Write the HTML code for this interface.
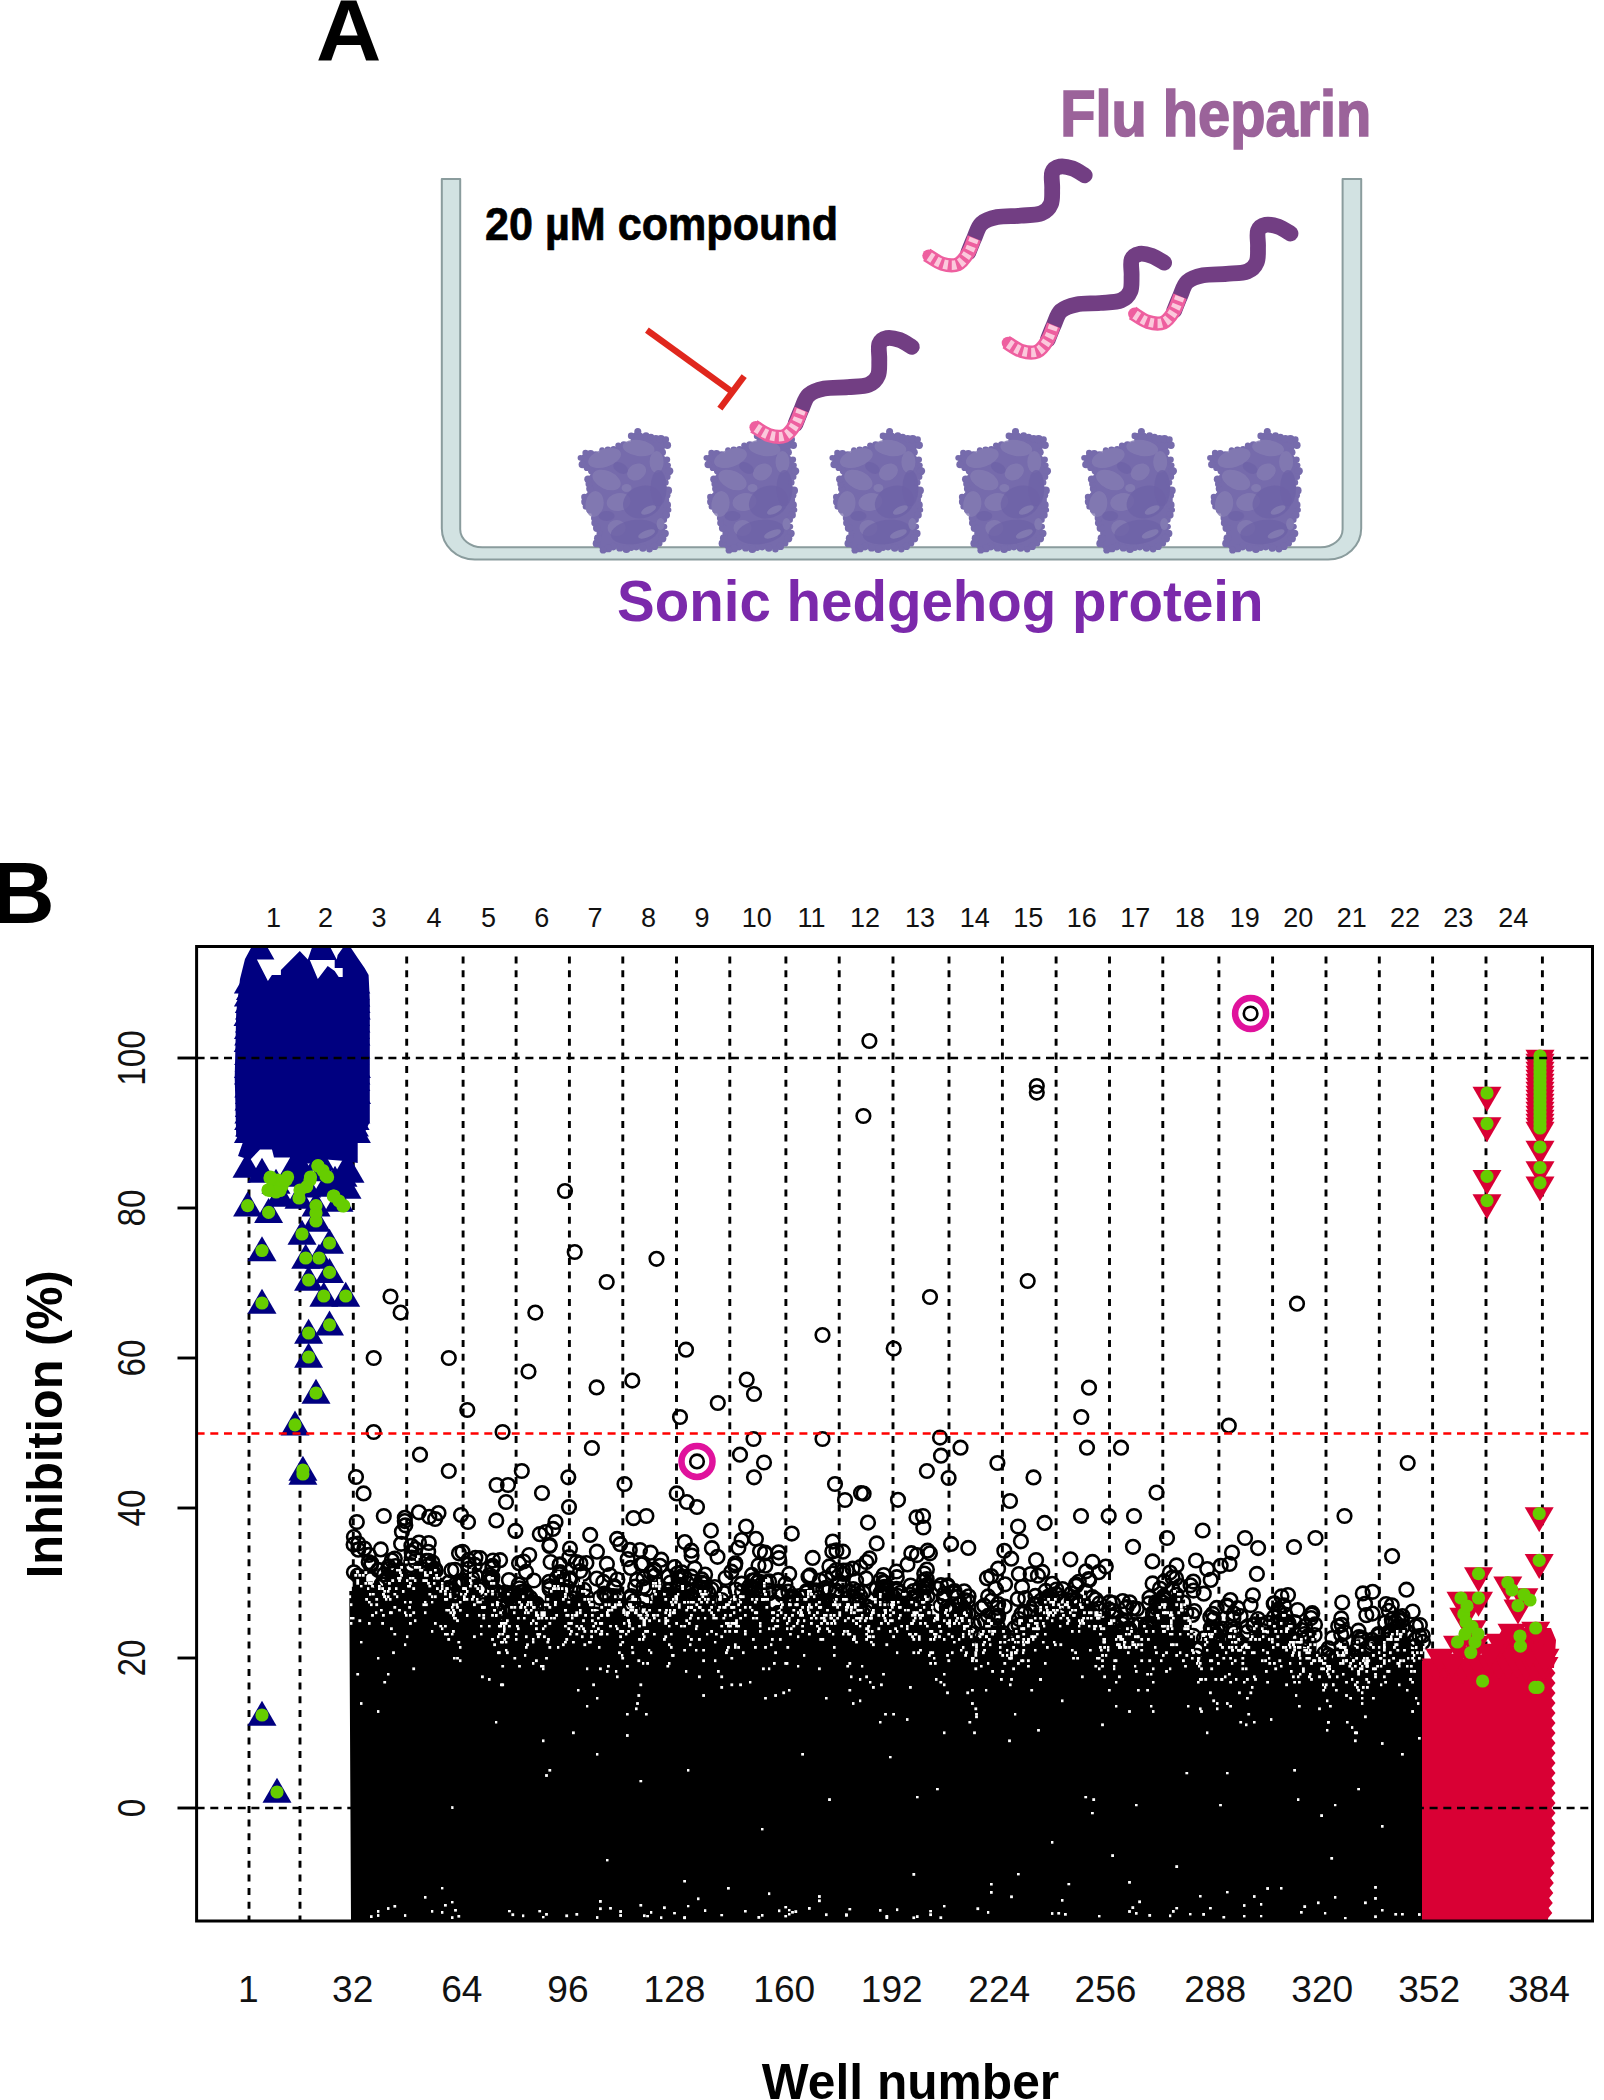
<!DOCTYPE html>
<html lang="en"><head><meta charset="utf-8"><title>Figure</title>
<style>
html,body{margin:0;padding:0;background:#fff;}
body{width:1604px;height:2100px;overflow:hidden;}
svg{display:block;}
text{font-family:"Liberation Sans",sans-serif;}
.b{font-weight:700;}
</style></head><body>
<svg width="1604" height="2100" viewBox="0 0 1604 2100">
<rect width="1604" height="2100" fill="#fff"/>

<g id="panelA">
<text class="b" font-size="87.5" text-anchor="middle" transform="translate(348.6 60.4) scale(1.035 1)">A</text>
<path d="M441.8,179 L441.8,528.5 A33,31 0 0 0 474.8,559.5 L1328.2,559.5 A33,31 0 0 0 1361.2,528.5 L1361.2,179 L1342.6,179 L1342.6,529.2 A22,18 0 0 1 1320.6,547.2 L482.2,547.2 A22,18 0 0 1 460.2,529.2 L460.2,179 Z" fill="#d2e2e2" stroke="#8a9c9d" stroke-width="2" stroke-linejoin="round"/>
<text class="b" x="485" y="239.6" font-size="45.5" stroke="#000" stroke-width="0.7" textLength="353" lengthAdjust="spacingAndGlyphs">20 µM compound</text>
<text class="b" x="1060.3" y="136" font-size="64.5" fill="#9b639a" stroke="#9b639a" stroke-width="1.7" textLength="311" lengthAdjust="spacingAndGlyphs">Flu heparin</text>
<text class="b" x="617" y="621.3" font-size="57.8" fill="#7b29ab" textLength="646.5" lengthAdjust="spacingAndGlyphs">Sonic hedgehog protein</text>
<defs><g id="blob">
<path d="M3.9,29.8C4.4,27.8 6.3,25.4 8.9,24.9C11.4,24.4 16.3,27.4 19.1,26.9C21.9,26.5 22.6,23 25.5,22.1C28.5,21.2 34.3,22.4 37,21.6C39.7,20.9 39.1,18.3 41.7,17.4C44.4,16.6 50.8,18.2 53,16.6C55.1,15 53.3,10.1 54.6,7.9C56,5.7 58.8,3.5 61.2,3.5C63.7,3.4 66.4,6.4 69.4,7.7C72.4,8.9 76,10.2 79.3,10.9C82.6,11.5 87.4,10.4 89.3,11.4C91.3,12.5 91.5,15.2 90.8,17.3C90.2,19.5 85.6,21.9 85.6,24.3C85.5,26.6 89.2,28.5 90.4,31.6C91.6,34.8 92.9,39.3 92.6,43.1C92.4,46.9 89.1,51.2 88.9,54.4C88.7,57.7 91.5,59.5 91.5,62.5C91.6,65.4 89,68.8 89.1,72.1C89.2,75.3 92.3,78.7 92,82C91.6,85.3 87.8,87.9 87.2,91.8C86.6,95.7 89.2,101.4 88.5,105.4C87.7,109.3 85.4,112.8 82.8,115.5C80.3,118.2 76.8,120.8 72.9,121.3C69.1,121.9 63.5,118.6 59.6,118.6C55.8,118.5 53.6,121.1 49.8,121.1C45.9,121.1 40.4,118.4 36.6,118.6C32.7,118.8 29.3,122.8 26.5,122.2C23.8,121.7 20.6,118.3 20,115.4C19.4,112.6 23.1,108.5 22.8,105.1C22.4,101.6 18.9,98.3 18.1,95C17.2,91.6 19.1,87.7 17.6,84.9C16.2,82.2 11,81.3 9.3,78.6C7.7,76 7.2,71.9 7.8,68.9C8.5,65.9 12.6,63.8 13.2,60.8C13.8,57.9 11.1,54.2 11.4,51.2C11.6,48.3 15.6,45.7 14.6,43.3C13.7,40.8 7.6,38.7 5.8,36.5C4,34.2 3.4,31.7 3.9,29.8Z" fill="#766bac"/>
<g fill="#766bac"><circle cx="3.9" cy="29.8" r="2.9"/><circle cx="8.9" cy="24.9" r="3.1"/><circle cx="14" cy="25.9" r="3.9"/><circle cx="19.1" cy="26.9" r="3.6"/><circle cx="25.5" cy="22.1" r="2.9"/><circle cx="31.3" cy="21.9" r="3.4"/><circle cx="37" cy="21.6" r="3.5"/><circle cx="41.7" cy="17.4" r="3"/><circle cx="47.3" cy="17" r="3.8"/><circle cx="53" cy="16.6" r="3"/><circle cx="54.6" cy="7.9" r="3.3"/><circle cx="61.2" cy="3.5" r="3.5"/><circle cx="69.4" cy="7.7" r="3.4"/><circle cx="74.3" cy="9.3" r="3.6"/><circle cx="79.3" cy="10.9" r="3.8"/><circle cx="84.3" cy="11.1" r="4.1"/><circle cx="89.3" cy="11.4" r="3.2"/><circle cx="90.8" cy="17.3" r="3.7"/><circle cx="85.6" cy="24.3" r="3.8"/><circle cx="90.4" cy="31.6" r="3.2"/><circle cx="91.5" cy="37.3" r="2.8"/><circle cx="92.6" cy="43.1" r="4.2"/><circle cx="90.8" cy="48.8" r="3.2"/><circle cx="88.9" cy="54.4" r="3.2"/><circle cx="91.5" cy="62.5" r="4"/><circle cx="90.3" cy="67.3" r="3.6"/><circle cx="89.1" cy="72.1" r="3.5"/><circle cx="90.5" cy="77" r="3.9"/><circle cx="92" cy="82" r="2.8"/><circle cx="89.6" cy="86.9" r="3.8"/><circle cx="87.2" cy="91.8" r="3.3"/><circle cx="87.8" cy="98.6" r="2.9"/><circle cx="88.5" cy="105.4" r="3.7"/><circle cx="85.7" cy="110.4" r="4.1"/><circle cx="82.8" cy="115.5" r="3.1"/><circle cx="77.9" cy="118.4" r="3.7"/><circle cx="72.9" cy="121.3" r="3.2"/><circle cx="66.3" cy="120" r="3.8"/><circle cx="59.6" cy="118.6" r="3.8"/><circle cx="54.7" cy="119.8" r="3.1"/><circle cx="49.8" cy="121.1" r="4"/><circle cx="43.2" cy="119.9" r="3.7"/><circle cx="36.6" cy="118.6" r="3.8"/><circle cx="31.6" cy="120.4" r="3.9"/><circle cx="26.5" cy="122.2" r="3.4"/><circle cx="20" cy="115.4" r="3.9"/><circle cx="21.4" cy="110.2" r="4"/><circle cx="22.8" cy="105.1" r="2.9"/><circle cx="20.4" cy="100" r="4"/><circle cx="18.1" cy="95" r="3.4"/><circle cx="17.9" cy="90" r="3.5"/><circle cx="17.6" cy="84.9" r="3"/><circle cx="13.5" cy="81.8" r="3.8"/><circle cx="9.3" cy="78.6" r="3.2"/><circle cx="8.6" cy="73.8" r="4"/><circle cx="7.8" cy="68.9" r="3.2"/><circle cx="13.2" cy="60.8" r="3.6"/><circle cx="12.3" cy="56" r="3.4"/><circle cx="11.4" cy="51.2" r="3.7"/><circle cx="14.6" cy="43.3" r="3.1"/><circle cx="10.2" cy="39.9" r="3.1"/><circle cx="5.8" cy="36.5" r="3.8"/></g>
<ellipse cx="28" cy="30" rx="17" ry="9" fill="#857cb3" opacity="0.8" transform="rotate(-18 28 30)"/>
<ellipse cx="62" cy="20" rx="16" ry="8" fill="#857cb3" opacity="0.8" transform="rotate(8 62 20)"/>
<ellipse cx="30" cy="52" rx="15" ry="9" fill="#857cb3" opacity="0.8" transform="rotate(25 30 52)"/>
<ellipse cx="60" cy="44" rx="10" ry="8" fill="#857cb3" opacity="0.8" transform="rotate(-30 60 44)"/>
<ellipse cx="18" cy="76" rx="9" ry="13" fill="#857cb3" opacity="0.8" transform="rotate(8 18 76)"/>
<ellipse cx="42" cy="74" rx="12" ry="9" fill="#857cb3" opacity="0.8" transform="rotate(-10 42 74)"/>
<ellipse cx="80" cy="34" rx="7" ry="11" fill="#857cb3" opacity="0.8" transform="rotate(0 80 34)"/>
<ellipse cx="40" cy="100" rx="9" ry="8" fill="#857cb3" opacity="0.8" transform="rotate(0 40 100)"/>
<ellipse cx="66" cy="74" rx="20" ry="16" fill="#6d62a7" opacity="0.75" transform="rotate(-20 66 74)"/>
<ellipse cx="58" cy="104" rx="24" ry="12" fill="#6d62a7" opacity="0.75" transform="rotate(-8 58 104)"/>
<ellipse cx="82" cy="60" rx="8" ry="18" fill="#6d62a7" opacity="0.75" transform="rotate(0 82 60)"/>
<ellipse cx="44" cy="40" rx="8" ry="5" fill="#6d62a7" opacity="0.75" transform="rotate(30 44 40)"/>
<ellipse cx="30" cy="88" rx="8" ry="5" fill="#6d62a7" opacity="0.75" transform="rotate(0 30 88)"/>
<ellipse cx="72" cy="82" rx="8" ry="3.5" fill="#857cb3" opacity="0.85" transform="rotate(-25 72 82)"/>
<ellipse cx="70" cy="106" rx="9" ry="3.5" fill="#857cb3" opacity="0.85" transform="rotate(-22 70 106)"/>
<ellipse cx="84" cy="96" rx="4" ry="6" fill="#857cb3" opacity="0.85" transform="rotate(0 84 96)"/>
<ellipse cx="50" cy="60" rx="5" ry="4" fill="#857cb3" opacity="0.85" transform="rotate(0 50 60)"/>
</g>
<g id="worm" fill="none" stroke-linecap="round" stroke-linejoin="round">
<path d="M44.6,-3.9C45.6,-6.3 48.3,-13.5 50.5,-18.3C52.7,-23.1 53.9,-29.2 57.7,-32.7C61.5,-36.2 66.9,-37.9 73.4,-39.2C79.9,-40.5 89.5,-39.9 96.9,-40.6C104.3,-41.3 112.9,-41.2 117.9,-43.2C122.9,-45.1 125.4,-48.2 127.1,-52.3C128.9,-56.4 128.2,-62.8 128.4,-68C128.6,-73.2 127.1,-80.2 128.4,-83.8C129.7,-87.4 132.8,-89 136.2,-89.7C139.6,-90.3 144.8,-89.1 148.9,-87.7C153,-86.2 158.9,-82.1 160.9,-81" stroke="#723e83" stroke-width="15.8"/>
<path d="M2.9,-1.5C5.5,-0 13.2,5.8 18.4,7.4C23.6,9 29.7,9.8 34.1,7.9C38.5,6 41.9,0.5 44.6,-3.9C47.3,-8.3 49.5,-15.9 50.5,-18.3" stroke="#ee5f9f" stroke-width="14.2" stroke-linecap="butt"/>
<circle cx="4.9" cy="-0.5" r="6.4" fill="#ee5f9f" stroke="none"/>
<path d="M2.9,-1.5C5.5,-0 13.2,5.8 18.4,7.4C23.6,9 29.7,9.8 34.1,7.9C38.5,6 41.9,0.5 44.6,-3.9C47.3,-8.3 49.5,-15.9 50.5,-18.3" stroke="#fbc9dc" stroke-width="9.4" stroke-dasharray="4.4 3.8" stroke-dashoffset="-3" stroke-linecap="butt"/>
</g></defs>
<g stroke="#e0271d" stroke-width="6.4" fill="none"><path d="M646.9,330.1 L731,391"/><path d="M744.2,376.1 L719.9,408.7"/></g>
<use href="#blob" x="576.6" y="428"/>
<use href="#blob" x="702.5" y="428"/>
<use href="#blob" x="828.4" y="428"/>
<use href="#blob" x="954.3" y="428"/>
<use href="#blob" x="1080.2" y="428"/>
<use href="#blob" x="1206.1" y="428"/>
<use href="#worm" x="750.9" y="427.8"/>
<use href="#worm" x="923.8" y="256.3"/>
<use href="#worm" x="1003.2" y="343.6"/>
<use href="#worm" x="1129.6" y="314.5"/>
</g>
<g id="panelB">
<text class="b" x="-8.5" y="923" font-size="87.5">B</text>
<defs><clipPath id="pc"><rect x="196.6" y="946.5" width="1395.9" height="974.5"/></clipPath>
<marker id="mc" markerWidth="20" markerHeight="20" refX="10" refY="10" markerUnits="userSpaceOnUse" overflow="visible"><circle cx="10" cy="10" r="6.8" fill="none" stroke="#000" stroke-width="2.6"/></marker>
<marker id="mw" markerWidth="6" markerHeight="6" refX="1.4" refY="1.4" markerUnits="userSpaceOnUse"><rect width="2.8" height="2.8" fill="#fff"/></marker>
<marker id="mb" markerWidth="40" markerHeight="40" refX="20" refY="20" markerUnits="userSpaceOnUse" overflow="visible"><path d="M20,3.5 L34.5,28.5 L5.5,28.5 Z" fill="#000080"/></marker>
<marker id="mr" markerWidth="40" markerHeight="40" refX="20" refY="20" markerUnits="userSpaceOnUse" overflow="visible"><path d="M20,36.5 L34.5,11.5 L5.5,11.5 Z" fill="#d90034"/></marker>
<marker id="mg" markerWidth="20" markerHeight="20" refX="10" refY="10" markerUnits="userSpaceOnUse" overflow="visible"><circle cx="10" cy="10" r="6.6" fill="#66cd00"/></marker>
</defs>
<text x="273.5" y="927" font-size="27" text-anchor="middle" fill="#111">1</text>
<text x="325.6" y="927" font-size="27" text-anchor="middle" fill="#111">2</text>
<text x="379" y="927" font-size="27" text-anchor="middle" fill="#111">3</text>
<text x="433.9" y="927" font-size="27" text-anchor="middle" fill="#111">4</text>
<text x="488.6" y="927" font-size="27" text-anchor="middle" fill="#111">5</text>
<text x="541.8" y="927" font-size="27" text-anchor="middle" fill="#111">6</text>
<text x="595.1" y="927" font-size="27" text-anchor="middle" fill="#111">7</text>
<text x="648.6" y="927" font-size="27" text-anchor="middle" fill="#111">8</text>
<text x="702.1" y="927" font-size="27" text-anchor="middle" fill="#111">9</text>
<text x="756.8" y="927" font-size="27" text-anchor="middle" fill="#111">10</text>
<text x="811.5" y="927" font-size="27" text-anchor="middle" fill="#111">11</text>
<text x="865.1" y="927" font-size="27" text-anchor="middle" fill="#111">12</text>
<text x="920" y="927" font-size="27" text-anchor="middle" fill="#111">13</text>
<text x="974.7" y="927" font-size="27" text-anchor="middle" fill="#111">14</text>
<text x="1028.2" y="927" font-size="27" text-anchor="middle" fill="#111">15</text>
<text x="1081.8" y="927" font-size="27" text-anchor="middle" fill="#111">16</text>
<text x="1135.2" y="927" font-size="27" text-anchor="middle" fill="#111">17</text>
<text x="1189.8" y="927" font-size="27" text-anchor="middle" fill="#111">18</text>
<text x="1244.8" y="927" font-size="27" text-anchor="middle" fill="#111">19</text>
<text x="1298.3" y="927" font-size="27" text-anchor="middle" fill="#111">20</text>
<text x="1351.7" y="927" font-size="27" text-anchor="middle" fill="#111">21</text>
<text x="1404.9" y="927" font-size="27" text-anchor="middle" fill="#111">22</text>
<text x="1458.3" y="927" font-size="27" text-anchor="middle" fill="#111">23</text>
<text x="1513.2" y="927" font-size="27" text-anchor="middle" fill="#111">24</text>
<text font-size="36.4" text-anchor="middle" fill="#111" transform="translate(248.4 2002) scale(1.02 1)">1</text>
<text font-size="36.4" text-anchor="middle" fill="#111" transform="translate(352.7 2002) scale(1.02 1)">32</text>
<text font-size="36.4" text-anchor="middle" fill="#111" transform="translate(461.8 2002) scale(1.02 1)">64</text>
<text font-size="36.4" text-anchor="middle" fill="#111" transform="translate(568 2002) scale(1.02 1)">96</text>
<text font-size="36.4" text-anchor="middle" fill="#111" transform="translate(674.5 2002) scale(1.02 1)">128</text>
<text font-size="36.4" text-anchor="middle" fill="#111" transform="translate(784.3 2002) scale(1.02 1)">160</text>
<text font-size="36.4" text-anchor="middle" fill="#111" transform="translate(891.7 2002) scale(1.02 1)">192</text>
<text font-size="36.4" text-anchor="middle" fill="#111" transform="translate(999.3 2002) scale(1.02 1)">224</text>
<text font-size="36.4" text-anchor="middle" fill="#111" transform="translate(1105.5 2002) scale(1.02 1)">256</text>
<text font-size="36.4" text-anchor="middle" fill="#111" transform="translate(1215.3 2002) scale(1.02 1)">288</text>
<text font-size="36.4" text-anchor="middle" fill="#111" transform="translate(1322.2 2002) scale(1.02 1)">320</text>
<text font-size="36.4" text-anchor="middle" fill="#111" transform="translate(1429.1 2002) scale(1.02 1)">352</text>
<text font-size="36.4" text-anchor="middle" fill="#111" transform="translate(1538.9 2002) scale(1.02 1)">384</text>
<text font-size="33.3" text-anchor="middle" fill="#111" transform="translate(145 1808) rotate(-90) scale(1 1.17)">0</text>
<line x1="177.5" x2="196.6" y1="1808" y2="1808" stroke="#000" stroke-width="2.9"/>
<text font-size="33.3" text-anchor="middle" fill="#111" transform="translate(145 1658) rotate(-90) scale(1 1.17)">20</text>
<line x1="177.5" x2="196.6" y1="1658" y2="1658" stroke="#000" stroke-width="2.9"/>
<text font-size="33.3" text-anchor="middle" fill="#111" transform="translate(145 1508) rotate(-90) scale(1 1.17)">40</text>
<line x1="177.5" x2="196.6" y1="1508" y2="1508" stroke="#000" stroke-width="2.9"/>
<text font-size="33.3" text-anchor="middle" fill="#111" transform="translate(145 1358) rotate(-90) scale(1 1.17)">60</text>
<line x1="177.5" x2="196.6" y1="1358" y2="1358" stroke="#000" stroke-width="2.9"/>
<text font-size="33.3" text-anchor="middle" fill="#111" transform="translate(145 1208) rotate(-90) scale(1 1.17)">80</text>
<line x1="177.5" x2="196.6" y1="1208" y2="1208" stroke="#000" stroke-width="2.9"/>
<text font-size="33.3" text-anchor="middle" fill="#111" transform="translate(145 1058) rotate(-90) scale(1 1.17)">100</text>
<line x1="177.5" x2="196.6" y1="1058" y2="1058" stroke="#000" stroke-width="2.9"/>
<text class="b" font-size="50.5" text-anchor="middle" transform="translate(62 1424.3) rotate(-90)" textLength="308" lengthAdjust="spacingAndGlyphs">Inhibition (%)</text>
<text class="b" font-size="49.7" x="910.5" y="2099" text-anchor="middle">Well number</text>
<g clip-path="url(#pc)">
<line x1="249" x2="249" y1="956.5" y2="1921" stroke="#000" stroke-width="2.9" stroke-dasharray="7 6.7"/>
<line x1="300" x2="300" y1="956.5" y2="1921" stroke="#000" stroke-width="2.9" stroke-dasharray="7 6.7"/>
<line x1="353.3" x2="353.3" y1="956.5" y2="1921" stroke="#000" stroke-width="2.9" stroke-dasharray="7 6.7"/>
<line x1="406.7" x2="406.7" y1="956.5" y2="1921" stroke="#000" stroke-width="2.9" stroke-dasharray="7 6.7"/>
<line x1="463.1" x2="463.1" y1="956.5" y2="1921" stroke="#000" stroke-width="2.9" stroke-dasharray="7 6.7"/>
<line x1="516.1" x2="516.1" y1="956.5" y2="1921" stroke="#000" stroke-width="2.9" stroke-dasharray="7 6.7"/>
<line x1="569.4" x2="569.4" y1="956.5" y2="1921" stroke="#000" stroke-width="2.9" stroke-dasharray="7 6.7"/>
<line x1="622.8" x2="622.8" y1="956.5" y2="1921" stroke="#000" stroke-width="2.9" stroke-dasharray="7 6.7"/>
<line x1="676.5" x2="676.5" y1="956.5" y2="1921" stroke="#000" stroke-width="2.9" stroke-dasharray="7 6.7"/>
<line x1="729.8" x2="729.8" y1="956.5" y2="1921" stroke="#000" stroke-width="2.9" stroke-dasharray="7 6.7"/>
<line x1="785.9" x2="785.9" y1="956.5" y2="1921" stroke="#000" stroke-width="2.9" stroke-dasharray="7 6.7"/>
<line x1="839.2" x2="839.2" y1="956.5" y2="1921" stroke="#000" stroke-width="2.9" stroke-dasharray="7 6.7"/>
<line x1="893" x2="893" y1="956.5" y2="1921" stroke="#000" stroke-width="2.9" stroke-dasharray="7 6.7"/>
<line x1="949" x2="949" y1="956.5" y2="1921" stroke="#000" stroke-width="2.9" stroke-dasharray="7 6.7"/>
<line x1="1002.4" x2="1002.4" y1="956.5" y2="1921" stroke="#000" stroke-width="2.9" stroke-dasharray="7 6.7"/>
<line x1="1056.1" x2="1056.1" y1="956.5" y2="1921" stroke="#000" stroke-width="2.9" stroke-dasharray="7 6.7"/>
<line x1="1109.5" x2="1109.5" y1="956.5" y2="1921" stroke="#000" stroke-width="2.9" stroke-dasharray="7 6.7"/>
<line x1="1162.8" x2="1162.8" y1="956.5" y2="1921" stroke="#000" stroke-width="2.9" stroke-dasharray="7 6.7"/>
<line x1="1218.9" x2="1218.9" y1="956.5" y2="1921" stroke="#000" stroke-width="2.9" stroke-dasharray="7 6.7"/>
<line x1="1272.6" x2="1272.6" y1="956.5" y2="1921" stroke="#000" stroke-width="2.9" stroke-dasharray="7 6.7"/>
<line x1="1326" x2="1326" y1="956.5" y2="1921" stroke="#000" stroke-width="2.9" stroke-dasharray="7 6.7"/>
<line x1="1379.3" x2="1379.3" y1="956.5" y2="1921" stroke="#000" stroke-width="2.9" stroke-dasharray="7 6.7"/>
<line x1="1432.6" x2="1432.6" y1="956.5" y2="1921" stroke="#000" stroke-width="2.9" stroke-dasharray="7 6.7"/>
<line x1="1486" x2="1486" y1="956.5" y2="1921" stroke="#000" stroke-width="2.9" stroke-dasharray="7 6.7"/>
<line x1="1542.4" x2="1542.4" y1="956.5" y2="1921" stroke="#000" stroke-width="2.9" stroke-dasharray="7 6.7"/>
<polygon points="351,1921 349.3,1590.9 352.7,1590.9 352.7,1570.8 356.1,1570.8 356,1573.5 359.4,1573.5 359.4,1569.9 362.8,1569.9 362.8,1569.4 366.2,1569.4 366.2,1581.7 369.6,1581.7 369.5,1581.4 372.9,1581.4 372.9,1587.6 376.3,1587.6 376.3,1583.2 379.7,1583.2 379.6,1585.7 383,1585.7 383,1583.8 386.4,1583.8 386.4,1579.5 389.8,1579.5 389.7,1573.5 393.1,1573.5 393.1,1573.4 396.5,1573.4 396.5,1563.1 399.9,1563.1 399.9,1563.4 403.3,1563.4 403.2,1559.4 406.6,1559.4 406.6,1573.8 410,1573.8 410,1574.1 413.4,1574.1 413.3,1563.2 416.7,1563.2 416.7,1552.8 420.1,1552.8 420.1,1566.2 423.5,1566.2 423.4,1568.6 426.8,1568.6 426.8,1569.8 430.2,1569.8 430.2,1569.7 433.6,1569.7 433.6,1567.4 437,1567.4 436.9,1573.1 440.3,1573.1 440.3,1577.8 443.7,1577.8 443.7,1580.8 447.1,1580.8 447,1584.6 450.4,1584.6 450.4,1594.3 453.8,1594.3 453.8,1599.4 457.2,1599.4 457.1,1597.8 460.5,1597.8 460.5,1578.9 463.9,1578.9 463.9,1585.6 467.3,1585.6 467.3,1566.6 470.7,1566.6 470.6,1579.2 474,1579.2 474,1578.7 477.4,1578.7 477.4,1585.8 480.8,1585.8 480.7,1600.5 484.1,1600.5 484.1,1590.7 487.5,1590.7 487.5,1584.7 490.9,1584.7 490.8,1575.3 494.2,1575.3 494.2,1593.8 497.6,1593.8 497.6,1608.4 501,1608.4 501,1620 504.4,1620 504.3,1612.4 507.7,1612.4 507.7,1591.7 511.1,1591.7 511.1,1596.6 514.5,1596.6 514.4,1603.7 517.8,1603.7 517.8,1592.2 521.2,1592.2 521.2,1589.5 524.6,1589.5 524.5,1593.2 527.9,1593.2 527.9,1599.1 531.3,1599.1 531.3,1601.4 534.7,1601.4 534.7,1609.2 538.1,1609.2 538,1609.3 541.4,1609.3 541.4,1609.4 544.8,1609.4 544.8,1594.7 548.2,1594.7 548.1,1589.6 551.5,1589.6 551.5,1580.9 554.9,1580.9 554.9,1577.3 558.3,1577.3 558.2,1569.7 561.6,1569.7 561.6,1576.8 565,1576.8 565,1590 568.4,1590 568.4,1598.8 571.8,1598.8 571.7,1595.6 575.1,1595.6 575.1,1590.8 578.5,1590.8 578.5,1578.9 581.9,1578.9 581.8,1583.9 585.2,1583.9 585.2,1594.9 588.6,1594.9 588.6,1595.3 592,1595.3 591.9,1600.3 595.3,1600.3 595.3,1611.1 598.7,1611.1 598.7,1603.9 602.1,1603.9 602.1,1590.4 605.5,1590.4 605.4,1594.2 608.8,1594.2 608.8,1596.6 612.2,1596.6 612.2,1590.6 615.6,1590.6 615.5,1598.7 618.9,1598.7 618.9,1594.4 622.3,1594.4 622.3,1615.9 625.7,1615.9 625.6,1609.1 629,1609.1 629,1600.5 632.4,1600.5 632.4,1595.6 635.8,1595.6 635.8,1607 639.2,1607 639.1,1612.7 642.5,1612.7 642.5,1626.2 645.9,1626.2 645.9,1606.5 649.3,1606.5 649.2,1600.3 652.6,1600.3 652.6,1580.2 656,1580.2 656,1579.1 659.4,1579.1 659.3,1578.8 662.7,1578.8 662.7,1593.1 666.1,1593.1 666.1,1601 669.5,1601 669.5,1596.7 672.9,1596.7 672.8,1594.9 676.2,1594.9 676.2,1590.2 679.6,1590.2 679.6,1580.8 683,1580.8 682.9,1596.4 686.3,1596.4 686.3,1599.4 689.7,1599.4 689.7,1599.9 693.1,1599.9 693,1597.8 696.4,1597.8 696.4,1596 699.8,1596 699.8,1586.2 703.2,1586.2 703.2,1588.1 706.6,1588.1 706.5,1597.3 709.9,1597.3 709.9,1595.5 713.3,1595.5 713.3,1605.2 716.7,1605.2 716.6,1591.7 720,1591.7 720,1594.9 723.4,1594.9 723.4,1598.1 726.8,1598.1 726.7,1597.7 730.1,1597.7 730.1,1602.2 733.5,1602.2 733.5,1594 736.9,1594 736.9,1603 740.3,1603 740.2,1589.7 743.6,1589.7 743.6,1591.1 747,1591.1 747,1594.2 750.4,1594.2 750.3,1587.5 753.7,1587.5 753.7,1593.9 757.1,1593.9 757.1,1590.9 760.5,1590.9 760.4,1594.5 763.8,1594.5 763.8,1576.9 767.2,1576.9 767.2,1590.3 770.6,1590.3 770.6,1608.1 774,1608.1 773.9,1606.7 777.3,1606.7 777.3,1611.3 780.7,1611.3 780.7,1597.7 784.1,1597.7 784,1598.9 787.4,1598.9 787.4,1601.7 790.8,1601.7 790.8,1599.2 794.2,1599.2 794.1,1592.4 797.5,1592.4 797.5,1604.6 800.9,1604.6 800.9,1604.3 804.3,1604.3 804.3,1589 807.7,1589 807.6,1584.5 811,1584.5 811,1583 814.4,1583 814.4,1596.5 817.8,1596.5 817.7,1599.9 821.1,1599.9 821.1,1602.7 824.5,1602.7 824.5,1603.8 827.9,1603.8 827.8,1598.8 831.2,1598.8 831.2,1600.9 834.6,1600.9 834.6,1596.8 838,1596.8 838,1595.1 841.4,1595.1 841.3,1582.8 844.7,1582.8 844.7,1596.4 848.1,1596.4 848.1,1602.8 851.5,1602.8 851.4,1604.9 854.8,1604.9 854.8,1600.7 858.2,1600.7 858.2,1603.6 861.6,1603.6 861.5,1609 864.9,1609 864.9,1615.7 868.3,1615.7 868.3,1610.8 871.7,1610.8 871.7,1600.5 875.1,1600.5 875,1585.7 878.4,1585.7 878.4,1587.7 881.8,1587.7 881.8,1601.4 885.2,1601.4 885.1,1606.5 888.5,1606.5 888.5,1602.7 891.9,1602.7 891.9,1600.2 895.3,1600.2 895.2,1591.8 898.6,1591.8 898.6,1600.9 902,1600.9 902,1590.2 905.4,1590.2 905.4,1601 908.8,1601 908.7,1589.6 912.1,1589.6 912.1,1608.6 915.5,1608.6 915.5,1598 918.9,1598 918.8,1606.4 922.2,1606.4 922.2,1593 925.6,1593 925.6,1592.5 929,1592.5 928.9,1603.9 932.3,1603.9 932.3,1614.2 935.7,1614.2 935.7,1620.8 939.1,1620.8 939.1,1608.9 942.5,1608.9 942.4,1604.1 945.8,1604.1 945.8,1605.6 949.2,1605.6 949.2,1617.1 952.6,1617.1 952.5,1613.3 955.9,1613.3 955.9,1612.9 959.3,1612.9 959.3,1610.3 962.7,1610.3 962.6,1619.5 966,1619.5 966,1612 969.4,1612 969.4,1628.5 972.8,1628.5 972.8,1642.3 976.2,1642.3 976.1,1641.3 979.5,1641.3 979.5,1630.6 982.9,1630.6 982.9,1619.4 986.3,1619.4 986.2,1615.5 989.6,1615.5 989.6,1615.9 993,1615.9 993,1625.3 996.4,1625.3 996.3,1623.7 999.7,1623.7 999.7,1629.4 1003.1,1629.4 1003.1,1630.1 1006.5,1630.1 1006.5,1643.2 1009.9,1643.2 1009.8,1638 1013.2,1638 1013.2,1627.4 1016.6,1627.4 1016.6,1619.4 1020,1619.4 1019.9,1615.4 1023.3,1615.4 1023.3,1616.8 1026.7,1616.8 1026.7,1624.9 1030.1,1624.9 1030,1617.7 1033.4,1617.7 1033.4,1607.8 1036.8,1607.8 1036.8,1612.2 1040.2,1612.2 1040.2,1597 1043.6,1597 1043.5,1599 1046.9,1599 1046.9,1595.7 1050.3,1595.7 1050.3,1598.7 1053.7,1598.7 1053.6,1591.4 1057,1591.4 1057,1597.5 1060.4,1597.5 1060.4,1612.5 1063.8,1612.5 1063.7,1598.2 1067.1,1598.2 1067.1,1597.8 1070.5,1597.8 1070.5,1600.7 1073.9,1600.7 1073.9,1603.3 1077.3,1603.3 1077.2,1602.4 1080.6,1602.4 1080.6,1601.7 1084,1601.7 1084,1590.6 1087.4,1590.6 1087.3,1599 1090.7,1599 1090.7,1605 1094.1,1605 1094.1,1609.1 1097.5,1609.1 1097.4,1613.1 1100.8,1613.1 1100.8,1617.7 1104.2,1617.7 1104.2,1615.9 1107.6,1615.9 1107.6,1611.2 1111,1611.2 1110.9,1617.1 1114.3,1617.1 1114.3,1633.1 1117.7,1633.1 1117.7,1630.7 1121.1,1630.7 1121,1623.6 1124.4,1623.6 1124.4,1621.9 1127.8,1621.9 1127.8,1629.7 1131.2,1629.7 1131.1,1629.1 1134.5,1629.1 1134.5,1633.3 1137.9,1633.3 1137.9,1622.7 1141.3,1622.7 1141.3,1621.9 1144.7,1621.9 1144.6,1627.1 1148,1627.1 1148,1633.7 1151.4,1633.7 1151.4,1628.9 1154.8,1628.9 1154.7,1611.3 1158.1,1611.3 1158.1,1605.5 1161.5,1605.5 1161.5,1600.5 1164.9,1600.5 1164.8,1600.8 1168.2,1600.8 1168.2,1601.2 1171.6,1601.2 1171.6,1585.7 1175,1585.7 1175,1592.4 1178.4,1592.4 1178.3,1590.2 1181.7,1590.2 1181.7,1599.5 1185.1,1599.5 1185.1,1614.2 1188.5,1614.2 1188.4,1616.9 1191.8,1616.9 1191.8,1631.5 1195.2,1631.5 1195.2,1656.1 1198.6,1656.1 1198.5,1656.5 1201.9,1656.5 1201.9,1636.9 1205.3,1636.9 1205.3,1622.7 1208.7,1622.7 1208.7,1622.6 1212.1,1622.6 1212,1626.8 1215.4,1626.8 1215.4,1639.5 1218.8,1639.5 1218.8,1631.2 1222.2,1631.2 1222.1,1640.8 1225.5,1640.8 1225.5,1632 1228.9,1632 1228.9,1631.9 1232.3,1631.9 1232.2,1629.6 1235.6,1629.6 1235.6,1636.5 1239,1636.5 1239,1643.3 1242.4,1643.3 1242.4,1648.1 1245.8,1648.1 1245.7,1641.3 1249.1,1641.3 1249.1,1634.1 1252.5,1634.1 1252.5,1621.9 1255.9,1621.9 1255.8,1613.9 1259.2,1613.9 1259.2,1624.9 1262.6,1624.9 1262.6,1626.2 1266,1626.2 1265.9,1637.4 1269.3,1637.4 1269.3,1620.7 1272.7,1620.7 1272.7,1621.5 1276.1,1621.5 1276.1,1614.8 1279.5,1614.8 1279.4,1616.3 1282.8,1616.3 1282.8,1611.7 1286.2,1611.7 1286.2,1622.9 1289.6,1622.9 1289.5,1622.4 1292.9,1622.4 1292.9,1638.7 1296.3,1638.7 1296.3,1636.1 1299.7,1636.1 1299.6,1635.9 1303,1635.9 1303,1648.3 1306.4,1648.3 1306.4,1635.9 1309.8,1635.9 1309.8,1629 1313.2,1629 1313.1,1630.6 1316.5,1630.6 1316.5,1651.2 1319.9,1651.2 1319.9,1656.5 1323.3,1656.5 1323.2,1656.4 1326.6,1656.4 1326.6,1662.4 1330,1662.4 1330,1663 1333.4,1663 1333.3,1652.9 1336.7,1652.9 1336.7,1647.6 1340.1,1647.6 1340.1,1640.7 1343.5,1640.7 1343.5,1642.5 1346.9,1642.5 1346.8,1656.4 1350.2,1656.4 1350.2,1657.2 1353.6,1657.2 1353.6,1652.2 1357,1652.2 1356.9,1639.3 1360.3,1639.3 1360.3,1647.1 1363.7,1647.1 1363.7,1650.2 1367.1,1650.2 1367,1651.5 1370.4,1651.5 1370.4,1641.7 1373.8,1641.7 1373.8,1643 1377.2,1643 1377.2,1635 1380.6,1635 1380.5,1640.3 1383.9,1640.3 1383.9,1635.3 1387.3,1635.3 1387.3,1631.3 1390.7,1631.3 1390.6,1622.9 1394,1622.9 1394,1627 1397.4,1627 1397.4,1632.7 1400.8,1632.7 1400.7,1620.6 1404.1,1620.6 1404.1,1627.5 1407.5,1627.5 1407.5,1637.3 1410.9,1637.3 1410.9,1649 1414.3,1649 1414.2,1641.2 1417.6,1641.2 1417.6,1643.2 1421,1643.2 1421,1643.2 1424.4,1643.2 1423,1921" fill="#000"/>
<polyline points="353.9,1572.3 353.9,1572.3 353.9,1537 353.6,1544.6 358.3,1549.7 357.7,1575.6 358.3,1543.5 364.3,1548.5 368.9,1554.9 368.7,1562.2 371.1,1578.7 371.4,1563.3 370.9,1565.6 374.1,1591.5 378.3,1569.9 381.6,1584.2 380.8,1549.4 385.1,1581.3 384.3,1580.8 384,1574.4 388.6,1566.4 387.7,1577.6 388.5,1569 391.8,1560.3 391.7,1573.1 394.8,1558.6 395.5,1566 394.3,1577.8 394.7,1572.5 401.1,1543.8 401.9,1531.8 404.8,1521.1 404.8,1517.8 405.3,1525.3 408.8,1579.3 411.1,1565.2 411.7,1557.5 411.4,1545.8 411.7,1552.8 415,1561 415.4,1549.1 418.9,1512.3 419,1542.5 426.3,1560.8 424.4,1569.8 427.7,1566 428.8,1543 428.5,1560.8 428.2,1551.8 429.3,1516.8 431.8,1575.7 431.6,1575 431.6,1572.6 432.5,1562.4 432.6,1571.2 435.1,1519 434.8,1568.8 435.7,1570.6 438.5,1513.1 448.8,1589.3 449.1,1582.3 448.6,1587.9 452.8,1590.6 451.3,1570.4 452.3,1600 452.6,1594.5 455.6,1584.2 455.1,1569.8 455,1601.9 456.1,1603.1 459.2,1583.9 458.4,1594.9 459.2,1597.3 459,1553.3 460.3,1582.3 462.7,1580.8 462.4,1583.7 462.5,1551.8 468.2,1564.4 468.5,1559.9 469.2,1568.5 472.3,1578.4 471.5,1582.5 474.9,1564.9 475.4,1557.8 475.8,1575.8 479.2,1589.5 480,1558.2 482.9,1605.1 489.3,1575 489.4,1581.2 488.8,1577.9 491.8,1578.6 493,1560.5 492.4,1577 492.4,1567.9 492.7,1565.9 491.9,1579.9 496.2,1598.5 495.8,1591 496.3,1520.4 499.4,1593.6 499.6,1606.8 498,1612.3 499.6,1611.2 500.1,1560.2 502.6,1623.9 502.2,1594.3 506.6,1613.3 505.9,1607.3 505.4,1592.5 508.9,1580.1 508.8,1595.2 510.6,1595.9 512.9,1592.8 513.1,1602.5 512.6,1595.8 512.5,1600.2 515.4,1530.9 518.7,1584.4 519.2,1595.2 520.8,1592.1 519,1563.2 519.4,1588.3 523.5,1561.5 524,1591.6 525.8,1595.7 526.2,1594.1 526,1571.9 530.1,1597.8 530,1602.1 529.5,1604.9 529.2,1555 532.9,1602.3 533.8,1580.5 535.7,1607.8 537.2,1605.5 536.7,1603.8 536,1613.4 539.8,1534.2 543.7,1608.6 545.6,1532.1 549.2,1581.8 550.6,1562 549.6,1586.1 549.6,1588.9 549.4,1546 549.8,1545.2 553,1528.9 556.6,1578.3 560,1572.1 559.6,1565 559.9,1564.3 559.7,1574.2 563.3,1579.5 566.9,1587.2 570.1,1580.1 569,1601.2 569.9,1600.9 569.2,1557.2 570,1548.6 569.5,1578.3 573.1,1598.4 575.7,1593 576.4,1562 580.4,1563.3 580.2,1571 583.1,1573.9 584,1589.8 586.4,1563.1 586.6,1596.7 590.2,1534.9 596.9,1551.7 596.9,1614.7 596.8,1578.6 599.7,1597.8 603.3,1581.9 604.3,1593.5 606.3,1594.5 606.9,1563.9 606.9,1596.9 610.3,1595.8 609.8,1575 614.1,1586.7 614.5,1587.5 613.5,1596 614.4,1586.4 617.9,1596.3 617.3,1603.3 617.1,1538.9 617.4,1579.5 620.2,1544.2 627.7,1559.1 630.2,1597.9 631.6,1605 629.8,1549.9 631.3,1596 630.6,1567.9 635.2,1586.5 633.8,1601.4 633.5,1518.1 637.1,1579.9 640.4,1608.9 640,1550 641.3,1564.3 643.1,1563.5 643.8,1600.4 643.5,1586.9 643.6,1578.3 647,1611.2 646.8,1589.1 651,1572.8 650.6,1552.7 654.4,1570.4 654.2,1569.7 654.5,1575.8 657.4,1584.6 660,1565.8 661.2,1559.7 664.6,1595.1 664.4,1595.3 664.9,1598.1 664.3,1597.2 668.4,1576.6 668.1,1591.1 672,1600.9 670.4,1582.6 671.6,1594.4 673.9,1595 674.6,1567.1 677.4,1573.5 677.8,1587.9 678.2,1584.6 677.7,1596 678.6,1579.1 678.4,1588.5 681.2,1576.6 681.8,1572.3 684.3,1600.6 684.3,1576.9 685.3,1591.2 684.6,1601.1 684.8,1542.1 687.5,1597.1 687.8,1603.6 688.5,1601.2 687.4,1583.2 692.1,1596 691.3,1550.7 691.6,1555.5 691.3,1576.7 691.7,1591.7 691.3,1598.5 694.7,1568.4 695.3,1597.8 701.5,1582.6 700.9,1588 701.1,1588.9 701.8,1579.4 704.9,1583.5 705.1,1574.6 705.5,1589.4 704.8,1589.9 707.2,1602.9 708.3,1592.4 711.5,1589.3 710.9,1530.6 711.9,1548.2 714.8,1587 717.5,1556.8 721.8,1600.1 724.3,1593.2 725.7,1578 731.9,1603.7 731.4,1571.7 735,1565.6 735.6,1589.6 735.4,1563.3 738.4,1604.1 738.4,1547.8 741.6,1583.7 742,1591.6 741.6,1540.1 746.1,1526.6 748.2,1596.9 749.2,1586.7 749.7,1600 750.9,1588.8 752,1574.9 751.9,1586.8 752.3,1580.7 755.4,1588.6 754.9,1580 755.9,1538.8 758.5,1565.4 758,1596.1 758.8,1581.3 759.4,1595 757.4,1582.4 760,1551.3 765,1553.4 766.1,1582.3 765,1552.6 765.3,1565.7 769.1,1581.4 769.1,1590.5 769.2,1593.2 774.7,1602.7 778.6,1552.3 778.4,1613.2 779,1558.2 778.3,1613 779.3,1591.7 778.2,1580.2 782,1594.9 785.4,1583.9 788.4,1591.7 789.3,1602.1 789.2,1573.9 792.6,1596.3 792.5,1598.8 792.5,1603.3 792.8,1597.2 793.2,1603.1 791.8,1533.6 799.1,1607.8 799.1,1596.1 798.9,1610.6 803.6,1597 802.2,1606.5 803.1,1608.2 806.7,1591.1 806.5,1592.6 808.5,1576.8 810,1575.4 812.7,1557.9 816.3,1592.3 816.6,1602.2 815.9,1590.3 819.8,1580.5 818.6,1597.8 823.2,1589 822.2,1608.6 826.3,1608.5 825.9,1602.3 825.9,1587.9 826.2,1605.2 826.3,1604.4 826,1604.4 826.1,1604.7 825.9,1578.3 829.5,1602.6 830,1603.5 829.2,1589.1 829.4,1566.4 832.8,1573.4 832.2,1601 833.1,1602.1 832.3,1551.4 832.7,1541.6 835.8,1591 836.1,1590.6 836.2,1570 836.4,1550.4 839.4,1583 843.1,1573.9 843.1,1585.5 843.3,1570.5 842.9,1551.7 846.3,1599 846.8,1570.5 849.3,1602.6 849.3,1591.6 853.1,1589 853.2,1598.1 852.6,1568.7 853.3,1596.9 857.7,1591.1 856.7,1600.4 856.1,1580.7 859.6,1608.4 859.2,1600 860.3,1567.1 860.2,1596 863.2,1592.6 863.3,1613.7 865.8,1612.2 867,1606.7 867.4,1621.5 866,1578.4 866.8,1607.1 866.3,1562 869.5,1558.4 869.9,1609.8 876.7,1543.4 876.5,1589.1 880.4,1593.7 880.6,1579.8 880.5,1593.6 884.5,1586.9 883.5,1582.1 883.7,1575 884.4,1582.7 882.3,1589.4 883.3,1597.1 887,1601 887.4,1593.7 886.5,1603.8 886.6,1590 887.8,1601 889.9,1602 893,1603.8 893.1,1596.5 896.5,1571.5 897.3,1590.4 897.5,1595.8 896.8,1577.2 896.6,1588.9 900.2,1602.9 900.3,1592.8 905.6,1606.8 907.5,1564.4 907,1602.9 906.7,1606 910.3,1594.7 910.6,1585.5 911.3,1553.2 913.6,1613.5 914.2,1597.9 913.2,1612.2 913.5,1591.1 917.2,1600.1 917,1555.1 916.5,1517.4 920.8,1603.7 920.8,1610.3 920.9,1608.4 919.8,1588 920.7,1608.9 924.6,1588.5 924,1598.5 923.6,1591.3 924.2,1573.5 924.1,1580.3 923.3,1527.5 926.7,1579 927.5,1596.3 927.7,1584.6 926.9,1586.8 927.6,1550.7 926.9,1569.6 927,1586.5 929.9,1553.3 937.7,1588.7 940.9,1585.2 940.4,1605.9 944.3,1593.8 943.7,1598.1 947.8,1586.5 946.8,1607.4 947.8,1610.3 947.6,1585.3 950.6,1620.7 950,1609.2 951.1,1543.9 953.9,1593.1 954.5,1591 957.4,1596.9 960.5,1604.2 960.7,1613.8 964.6,1609.5 963.8,1611.9 965.3,1624.2 964.9,1612.4 965.1,1614.8 964.2,1591.3 964.4,1600.2 968.3,1613.8 968.3,1547.9 968.6,1596.3 967.8,1600.9 970.8,1633.2 974.1,1625.4 978.6,1646.5 976.5,1644.8 980.8,1621.6 980.7,1636 981.6,1607.9 984.2,1605.7 985,1621 987.9,1615.9 988.1,1596.4 986.9,1578.2 991.7,1600.5 991.1,1576.1 994.9,1617.5 994.3,1627.8 995.4,1588.7 997.1,1607.8 997.6,1626.2 997.9,1617.5 998.3,1615.7 998.2,1604.1 998.1,1568.7 1001.5,1634.9 1003.4,1633.1 1005.1,1584.3 1004.7,1606.6 1004.3,1550.8 1008,1640 1007.5,1648.9 1008.3,1643.9 1011.2,1558.7 1011.2,1638.1 1014.6,1627.9 1018.5,1625.2 1019,1619.1 1017.8,1598.9 1018.9,1574.1 1018.1,1526.5 1022,1587.1 1021.6,1613.7 1020.9,1541.3 1025.3,1598.2 1024.9,1612.4 1028.6,1622.1 1027.8,1628.9 1028.5,1627.5 1030.9,1611.9 1031.7,1622.6 1030.7,1574 1034.4,1604.1 1036.1,1560 1034.3,1604.8 1035.4,1595.9 1037.9,1575.7 1042.3,1571.9 1041.1,1600.6 1045.9,1600.6 1045.7,1590.9 1045.2,1600.6 1044.6,1522.9 1048.4,1596.6 1048.3,1601.5 1048.5,1598.5 1052.2,1583.8 1052.1,1604.6 1051.7,1603.4 1053,1600.4 1056.4,1589.5 1056.4,1594.2 1062.5,1589 1061.8,1598 1065.3,1603.3 1070.4,1559.3 1072.3,1603.2 1071.5,1593.3 1072.1,1600.1 1075.6,1600.6 1076,1584.3 1076.1,1585.8 1079,1602.2 1078.9,1604 1078.8,1581.8 1085.3,1591.2 1086,1571.3 1089.2,1579.9 1088.7,1579.1 1092.5,1597.2 1092.4,1609 1092.4,1561.9 1095.8,1599.6 1099.4,1603.4 1099.2,1608.5 1098.8,1572.2 1105.6,1621 1105.8,1566.6 1109.6,1602.2 1109.1,1609.3 1113,1603 1112.7,1623 1113.1,1611 1112.9,1616.2 1116.6,1626.7 1116.1,1638.2 1119.6,1631.2 1120.2,1636.4 1119.5,1631.7 1122.3,1623.8 1122.2,1620.6 1122.9,1629.5 1122.7,1601.1 1125.6,1608.1 1126.2,1620.8 1126.7,1607 1129.8,1629.9 1129.7,1602.3 1128.7,1628.3 1130,1630.6 1133.1,1624.8 1133.2,1608.2 1133,1546.8 1136.9,1608.9 1139.7,1624.6 1146.8,1624.1 1145.6,1632.2 1146,1630.6 1146.9,1625.2 1146.5,1627 1148.7,1638.8 1149.1,1603.4 1149.7,1623.5 1149.5,1597.8 1153,1623.5 1152.9,1633.5 1152.8,1627.3 1153.1,1616 1153,1627.3 1153.1,1633.4 1153,1612.9 1152.6,1583.4 1152.5,1561.4 1157,1604.6 1156.1,1602 1155.9,1615 1156.9,1608.6 1159.8,1606.7 1160,1588.6 1160,1600.7 1160.3,1609.4 1162.8,1602.5 1164.2,1581.4 1163.4,1596.5 1163.8,1598.1 1166,1605.8 1169.9,1572.6 1169.4,1605.7 1172.3,1588.9 1172.5,1577.5 1176,1578.2 1176.4,1594.8 1176.5,1565.4 1180,1586.1 1183.5,1602.5 1186.3,1612.6 1190.5,1585.3 1194.3,1611.1 1192.4,1614.9 1193.4,1635.9 1193.5,1590.6 1193.3,1581.6 1196.7,1655.8 1196.9,1649.4 1200,1648.7 1203.8,1593.7 1203.9,1638.3 1207.2,1569.1 1210.8,1627.9 1210.3,1617 1210.7,1579.9 1213.3,1630.1 1212.7,1613.9 1212.8,1630.1 1213.8,1618.8 1217.1,1629.1 1217.5,1641.9 1216,1642.1 1216.9,1637.5 1217.2,1635.2 1216.7,1607.9 1221.4,1628.6 1220.7,1631.6 1220.7,1565.8 1223,1640.8 1226.8,1605.6 1227.2,1606.4 1229.5,1563.9 1230.7,1626.9 1230.4,1600.1 1233.4,1618.2 1233.8,1613.6 1234,1632.5 1233.9,1629 1237.7,1608.2 1237.3,1639.4 1240.8,1645.7 1240.5,1643.1 1240.6,1616.1 1244.7,1647.4 1244.4,1648.6 1247.2,1632.1 1247.6,1626.5 1250.6,1605.1 1254.2,1624.3 1253.8,1624.9 1252.9,1595.3 1253.3,1625 1258,1619 1256.9,1573.9 1258.1,1548.1 1261.3,1624.8 1263.9,1631.2 1266.3,1641.3 1267.5,1622.5 1273.9,1617.2 1274.4,1603.3 1274.9,1624.6 1273.7,1603.8 1278,1609.7 1278.8,1611.5 1279.8,1612.7 1281.1,1620.7 1281.5,1596.4 1285.2,1614.6 1283.9,1605.4 1287.3,1624.8 1287.4,1625.1 1288,1595 1288.7,1623.4 1288.2,1627.3 1287.5,1621.9 1294.6,1622.1 1295.1,1639.6 1294.9,1640 1297.2,1640.5 1297.6,1610 1301.5,1630.1 1304.4,1634 1305.9,1638.9 1305.1,1626.1 1307.8,1636.2 1311,1618.1 1311.6,1614.5 1312.3,1613.2 1314.6,1635.1 1315,1624.4 1324.8,1661.2 1324.6,1653 1328,1655.2 1328.6,1648.3 1328.5,1667 1331.6,1656.7 1332.4,1638 1335.1,1657.7 1335.4,1658.7 1338.2,1626.2 1341.2,1618.4 1341.2,1634.4 1342.2,1602.5 1341.4,1645.5 1341.7,1624.8 1344.9,1632.2 1349.1,1659.4 1348.5,1654.6 1352.4,1661 1355.2,1657.7 1355.8,1650.5 1355,1655.3 1358.6,1643.2 1358.4,1630.7 1359.1,1637 1361.8,1638 1362.8,1593.4 1361.5,1639.5 1365,1603.8 1366.3,1615.2 1371.3,1646.7 1371.6,1643.3 1372,1639.9 1372.6,1591.8 1372.4,1613.6 1375,1643.1 1378.4,1634.1 1378.5,1635.6 1381.8,1644.7 1385.2,1622.4 1386.6,1639.8 1386.1,1604.1 1388.6,1633.8 1389.4,1635.4 1389.1,1634.8 1389.1,1632 1388.8,1610.8 1391.8,1605.3 1391.8,1619.5 1392.4,1623.1 1392.1,1556.1 1395.7,1628 1395.3,1622.2 1399.3,1635.1 1398.9,1617.3 1398.5,1619.9 1402.9,1626.4 1402.5,1616 1401.9,1620.7 1406.3,1631.1 1406.4,1589.7 1412.7,1611.5 1415.5,1639.5 1415.9,1626.3 1415.1,1646.2 1419.9,1625 1419.3,1636 1422.7,1635.5 1423,1641.9 565,1191 574.7,1252 656.5,1258.8 606.7,1282 390.5,1296.5 400.6,1312.6 535.3,1312.6 822.5,1335 686,1349.7 373.7,1358 448.8,1358 528.5,1371.5 632.3,1380.6 596.6,1387.4 746.7,1379.6 754,1394 717.8,1403 467.3,1410 680,1417 373.7,1432 502.6,1432 753.5,1439 822.5,1439 591.9,1448 420,1454.7 740,1454.7 697,1461.4 764,1462.5 448.8,1471 521.8,1471 568.3,1477.3 754,1477.3 356,1477 624.5,1484 496.6,1485 508,1485 835,1484 542,1493 363.6,1493.4 506,1502 676.7,1493.4 686.8,1502 697,1507 861,1493 845,1500 569,1507 646.4,1516 383.8,1516 461,1515 468,1522 356.8,1522 555.5,1522 869.4,1041 1250.6,1013.5 1036.8,1086 1036.8,1092.6 863.4,1116 1027.7,1281 930,1297 1297,1303.7 893.7,1348.5 1089,1387.7 1081.3,1417 1228.8,1425.7 940,1437.6 960.5,1447.7 1087,1447.7 1121,1447.7 941,1455.7 997.4,1463 1407.7,1463 926.9,1471 948.6,1478 1033.5,1477.4 1156.5,1492.6 898,1499.8 1010,1501 863.6,1493.7 1081,1516 1108.7,1516 1134,1516 1344.5,1516 923,1516 868,1522.6 1202.7,1530.5 1167,1538 1245,1538 1232,1552.6 1315.5,1538 1294,1547 1196,1560.5 1196,1560.5" fill="none" stroke="none" marker-mid="url(#mc)"/>
<polyline points="349.7,1596.7 349.7,1596.7 351,1623.4 351,1618 351,1604.7 353.1,1618 355.7,1575.3 357.7,1583.3 357.7,1580.6 357.7,1674.1 359.8,1575.3 361.1,1586 359.8,1620.7 361.1,1703.5 361.1,1642 365.8,1572.6 363.2,1575.3 365.8,1583.3 369.2,1602 369.2,1623.4 366.6,1599.3 367.9,1588.6 369.2,1583.3 372.5,1586 369.9,1594 371.2,1583.3 369.9,1594 372.5,1615.3 371.2,1583.3 371.2,1604.7 375.9,1612.7 373.3,1594 376.7,1599.3 379.3,1586 378,1711.5 376.7,1604.7 379.3,1588.6 378,1658.1 382.6,1623.4 382.6,1588.6 381.3,1610 383.4,1594 383.4,1594 386,1599.3 384.7,1596.7 384.7,1682.1 384.7,1591.3 383.4,1615.3 384.7,1596.7 389.4,1583.3 388.1,1591.3 388.1,1596.7 389.4,1588.6 388.1,1674.1 390.1,1612.7 392.7,1580.6 391.4,1612.7 390.1,1599.3 391.4,1628.7 394.8,1594 396.1,1588.6 394.8,1634 393.5,1652.7 394.8,1607.3 399.5,1570 399.5,1580.6 399.5,1610 396.9,1596.7 398.2,1578 396.9,1570 400.3,1578 402.9,1591.3 402.9,1591.3 401.6,1575.3 401.6,1567.3 400.3,1572.6 404.9,1644.7 406.2,1562 406.2,1615.3 404.9,1602 404.9,1612.7 409.6,1607.3 409.6,1586 408.3,1586 407,1580.6 407,1636.7 410.4,1602 410.4,1623.4 410.4,1583.3 413,1578 410.4,1578 410.4,1615.3 413.7,1588.6 415,1567.3 413.7,1668.8 413.7,1612.7 415,1580.6 415,1620.7 417.1,1567.3 417.1,1559.3 419.7,1567.3 418.4,1556.6 421.8,1570 420.5,1570 425.1,1575.3 425.1,1572.6 423.8,1604.7 426.4,1580.6 425.1,1602 426.4,1604.7 423.8,1580.6 425.1,1612.7 429.8,1586 429.8,1594 428.5,1583.3 427.2,1575.3 431.9,1631.4 431.9,1596.7 430.6,1572.6 431.9,1602 434,1578 435.3,1596.7 436.6,1575.3 434,1583.3 435.3,1570 435.3,1623.4 437.3,1578 438.6,1578 437.3,1588.6 442,1588.6 442,1586 440.7,1626 440.7,1591.3 442,1583.3 442,1628.7 445.4,1594 446.7,1588.6 446.7,1610 445.4,1599.3 445.4,1591.3 446.7,1599.3 445.4,1626 445.4,1634 447.4,1588.6 448.7,1610 448.7,1639.4 450,1594 450,1596.7 447.4,1634 450,1596.7 450.8,1612.7 453.4,1610 452.1,1634 453.4,1615.3 453.4,1631.4 452.1,1607.3 453.4,1604.7 452.1,1807.6 455.5,1618 454.2,1612.7 456.8,1604.7 454.2,1612.7 454.2,1658.1 454.2,1618 460.1,1610 460.1,1660.7 460.1,1602 458.8,1642 460.1,1610 457.5,1620.7 457.5,1607.3 457.5,1658.1 460.1,1647.4 463.5,1588.6 460.9,1594 466.9,1591.3 466.9,1615.3 465.6,1594 464.3,1588.6 466.9,1599.3 464.3,1599.3 466.9,1591.3 464.3,1599.3 465.6,1588.6 464.3,1596.7 466.9,1615.3 470.3,1575.3 470.3,1586 470.3,1570 470.3,1580.6 471,1583.3 473.6,1596.7 472.3,1599.3 474.4,1636.7 475.7,1586 474.4,1604.7 477,1599.3 479.1,1615.3 477.8,1602 477.8,1588.6 480.4,1602 480.4,1591.3 482.4,1607.3 483.7,1618 482.4,1607.3 483.7,1607.3 483.7,1615.3 481.1,1626 481.1,1634 482.4,1676.8 485.8,1594 484.5,1607.3 489.2,1626 487.9,1591.3 489.2,1679.4 492.5,1639.4 493.8,1583.3 492.5,1591.3 491.2,1583.3 492.5,1578 492.5,1594 492.5,1615.3 492.5,1604.7 495.9,1615.3 494.6,1644.7 497.2,1604.7 497.2,1604.7 497.2,1604.7 497.2,1602 495.9,1615.3 494.6,1610 494.6,1610 495.9,1615.3 495.9,1722.1 498,1636.7 500.6,1612.7 498,1652.7 499.3,1652.7 499.3,1634 500.6,1626 499.3,1626 502.7,1666.1 501.4,1623.4 501.4,1623.4 502.7,1634 502.7,1642 504,1623.4 501.4,1684.8 504,1631.4 501.4,1642 504,1628.7 504,1628.7 504,1626 502.7,1684.8 506,1650.1 506,1642 506,1623.4 507.3,1652.7 504.7,1639.4 507.3,1620.7 507.3,1636.7 509.4,1626 508.1,1636.7 508.1,1594 511.5,1607.3 514.1,1612.7 517.4,1626 516.1,1634 514.8,1607.3 514.8,1658.1 516.1,1639.4 520.8,1607.3 518.2,1628.7 520.8,1607.3 519.5,1602 518.2,1618 519.5,1666.1 521.6,1604.7 524.2,1618 522.9,1596.7 526.2,1610 524.9,1655.4 527.5,1644.7 527.5,1604.7 524.9,1607.3 524.9,1612.7 526.2,1636.7 526.2,1647.4 530.9,1623.4 530.9,1610 530.9,1604.7 530.9,1604.7 528.3,1602 530.9,1602 530.9,1610 528.3,1612.7 533,1607.3 533,1642 534.3,1607.3 533,1663.4 533,1620.7 533,1639.4 536.4,1612.7 536.4,1628.7 537.7,1634 537.7,1615.3 536.4,1615.3 536.4,1623.4 536.4,1660.7 541,1666.1 539.7,1634 538.4,1636.7 538.4,1618 538.4,1618 544.4,1615.3 541.8,1612.7 543.1,1668.8 541.8,1618 544.4,1636.7 544.4,1612.7 543.1,1628.7 543.1,1666.1 541.8,1615.3 543.1,1615.3 543.1,1740.8 546.5,1618 547.8,1599.3 545.2,1604.7 545.2,1626 547.8,1604.7 547.8,1642 546.5,1775.5 546.5,1658.1 549.8,1607.3 551.1,1591.3 551.1,1618 549.8,1647.4 548.5,1639.4 549.8,1623.4 549.8,1770.2 553.2,1588.6 554.5,1586 554.5,1618 557.9,1647.4 555.3,1602 556.6,1615.3 555.3,1602 557.9,1586 555.3,1602 555.3,1604.7 555.3,1588.6 561.2,1580.6 558.6,1572.6 558.6,1588.6 562,1588.6 563.3,1599.3 563.3,1644.7 565.4,1626 565.4,1594 566.7,1639.4 565.4,1642 565.4,1610 568,1615.3 565.4,1596.7 566.7,1615.3 565.4,1610 566.7,1591.3 568.8,1623.4 568.8,1628.7 568.8,1602 571.4,1631.4 570.1,1634 571.4,1623.4 572.1,1618 572.1,1615.3 573.4,1642 573.4,1732.8 576.8,1626 576.8,1612.7 578.1,1690.1 576.8,1615.3 575.5,1615.3 576.8,1634 581.5,1626 578.9,1628.7 580.2,1583.3 578.9,1604.7 580.2,1583.3 581.5,1580.6 580.2,1610 580.2,1612.7 584.8,1591.3 584.8,1631.4 584.8,1599.3 584.8,1644.7 582.2,1591.3 582.2,1636.7 583.5,1620.7 583.5,1628.7 586.9,1706.1 586.9,1668.8 585.6,1615.3 588.2,1599.3 590.3,1604.7 591.6,1599.3 589,1642 591.6,1636.7 589,1602 591.6,1631.4 591.6,1604.7 590.3,1642 592.3,1620.7 594.9,1610 592.3,1615.3 592.3,1610 592.3,1604.7 593.6,1626 593.6,1684.8 598.3,1628.7 595.7,1623.4 598.3,1618 595.7,1631.4 597,1754.2 597,1698.1 601.7,1615.3 601.7,1631.4 601.7,1623.4 601.7,1634 600.4,1623.4 599.1,1647.4 601.7,1607.3 600.4,1634 601.7,1615.3 600.4,1668.8 605.1,1596.7 607.1,1612.7 608.4,1615.3 605.8,1604.7 608.4,1610 607.1,1612.7 607.1,1634 608.4,1666.1 607.1,1615.3 607.1,1671.4 609.2,1610 611.8,1610 609.2,1604.7 610.5,1626 615.2,1596.7 615.2,1607.3 615.2,1604.7 612.6,1607.3 617.2,1628.7 615.9,1626 618.5,1604.7 615.9,1671.4 617.2,1676.8 621.9,1655.4 619.3,1602 620.6,1596.7 620.6,1604.7 620.6,1631.4 619.3,1652.7 620.6,1644.7 620.6,1636.7 622.7,1658.1 622.7,1631.4 624,1623.4 622.7,1642 627.3,1714.1 628.6,1620.7 628.6,1631.4 628.6,1620.7 627.3,1615.3 627.3,1612.7 627.3,1666.1 626,1634 628.6,1612.7 627.3,1735.5 630.7,1604.7 630.7,1607.3 629.4,1626 632,1647.4 629.4,1604.7 630.7,1610 629.4,1623.4 632.8,1607.3 635.4,1612.7 632.8,1628.7 632.8,1599.3 632.8,1652.7 635.4,1599.3 632.8,1596.7 632.8,1599.3 635.4,1599.3 632.8,1610 635.4,1599.3 636.2,1610 636.2,1708.8 638.8,1695.5 638.8,1615.3 638.8,1660.7 636.2,1612.7 637.5,1703.5 642.1,1618 640.8,1615.3 639.5,1639.4 639.5,1626 640.8,1618 640.8,1780.9 640.8,1684.8 642.9,1634 642.9,1639.4 645.5,1631.4 642.9,1663.4 644.2,1636.7 647.6,1631.4 646.3,1618 646.3,1714.1 647.6,1615.3 648.9,1650.1 647.6,1663.4 646.3,1612.7 649.6,1620.7 650.9,1602 650.9,1652.7 649.6,1610 655.6,1594 654.3,1591.3 653,1586 654.3,1618 653,1615.3 654.3,1615.3 653,1583.3 655.6,1583.3 654.3,1634 656.4,1586 659,1620.7 659,1588.6 659,1580.6 657.7,1615.3 659.7,1586 659.7,1610 659.7,1583.3 659.7,1586 665.7,1620.7 664.4,1639.4 665.7,1612.7 665.7,1618 664.4,1594 665.7,1599.3 665.7,1623.4 665.7,1636.7 669.1,1626 669.1,1663.4 669.1,1615.3 669.1,1644.7 667.8,1620.7 666.5,1610 667.8,1666.1 672.5,1604.7 671.2,1647.4 669.9,1615.3 671.2,1602 672.5,1655.4 671.2,1634 669.9,1612.7 669.9,1610 675.8,1602 675.8,1596.7 673.2,1599.3 675.8,1602 674.5,1612.7 673.2,1612.7 673.2,1655.4 674.5,1610 679.2,1604.7 679.2,1607.3 676.6,1623.4 676.6,1599.3 677.9,1594 676.6,1596.7 682.6,1586 682.6,1586 682.6,1588.6 681.3,1626 684.6,1626 685.9,1671.4 684.6,1602 684.6,1602 684.6,1650.1 688,1607.3 686.7,1620.7 688,1602 686.7,1610 689.3,1623.4 688,1607.3 688,1770.2 688,1636.7 691.4,1607.3 690.1,1618 691.4,1602 691.4,1607.3 690.1,1618 691.4,1639.4 690.1,1644.7 691.4,1607.3 691.4,1615.3 694.7,1610 696,1628.7 693.4,1602 696,1650.1 699.4,1676.8 698.1,1618 696.8,1626 699.4,1599.3 696.8,1604.7 699.4,1639.4 699.4,1607.3 701.5,1602 702.8,1610 702.8,1610 700.2,1607.3 701.5,1594 700.2,1591.3 702.8,1596.7 703.6,1594 704.9,1599.3 703.6,1660.7 703.6,1695.5 706.2,1594 704.9,1591.3 703.6,1650.1 704.9,1618 709.5,1610 706.9,1634 706.9,1602 708.2,1599.3 712.9,1602 711.6,1631.4 711.6,1607.3 711.6,1612.7 715,1642 713.7,1618 713.7,1615.3 716.3,1634 716.3,1618 715,1660.7 719.6,1594 719.6,1599.3 719.6,1607.3 718.3,1610 718.3,1671.4 720.4,1599.3 720.4,1596.7 721.7,1626 721.7,1687.4 721.7,1636.7 721.7,1676.8 725.1,1607.3 725.1,1631.4 725.1,1615.3 726.4,1623.4 723.8,1607.3 723.8,1618 726.4,1652.7 726.4,1604.7 728.4,1604.7 727.1,1650.1 729.7,1602 728.4,1626 728.4,1647.4 729.7,1631.4 728.4,1623.4 731.8,1607.3 731.8,1607.3 730.5,1626 730.5,1615.3 731.8,1623.4 731.8,1684.8 731.8,1658.1 736.5,1620.7 735.2,1647.4 736.5,1631.4 735.2,1623.4 736.5,1626 733.9,1623.4 733.9,1596.7 735.2,1644.7 736.5,1623.4 733.9,1607.3 735.2,1631.4 733.9,1612.7 735.2,1599.3 733.9,1599.3 738.6,1626 738.6,1604.7 739.9,1610 738.6,1647.4 740.6,1602 740.6,1684.8 740.6,1596.7 743.2,1652.7 740.6,1618 743.2,1596.7 740.6,1596.7 745.3,1615.3 745.3,1607.3 745.3,1634 745.3,1631.4 750,1607.3 750,1682.1 752,1610 753.3,1639.4 752,1599.3 753.3,1618 756.7,1618 756.7,1612.7 755.4,1602 755.4,1612.7 756.7,1599.3 755.4,1647.4 760.1,1631.4 760.1,1626 760.1,1623.4 762.1,1599.3 763.4,1599.3 762.1,1599.3 763.4,1599.3 763.4,1668.8 762.1,1829 765.5,1594 766.8,1580.6 765.5,1599.3 765.5,1594 766.8,1580.6 764.2,1583.3 766.8,1580.6 764.2,1591.3 766.8,1607.3 766.8,1580.6 764.2,1586 765.5,1698.1 765.5,1647.4 768.9,1628.7 767.6,1599.3 768.9,1668.8 773.6,1618 772.3,1612.7 771,1644.7 773.6,1628.7 773.6,1612.7 772.3,1620.7 772.3,1639.4 775.6,1695.5 775.6,1626 775.6,1652.7 774.3,1663.4 777.7,1615.3 780.3,1639.4 777.7,1626 777.7,1620.7 782.4,1604.7 783.7,1692.8 781.1,1607.3 781.1,1612.7 781.1,1602 787,1628.7 785.7,1615.3 784.4,1618 787,1623.4 787,1663.4 785.7,1663.4 789.1,1618 789.1,1604.7 790.4,1604.7 787.8,1647.4 789.1,1604.7 790.4,1634 789.1,1620.7 789.1,1690.1 793.8,1626 791.2,1628.7 793.8,1610 792.5,1615.3 797.1,1604.7 797.1,1623.4 797.1,1604.7 797.1,1599.3 795.8,1604.7 797.1,1599.3 797.9,1620.7 800.5,1610 800.5,1615.3 797.9,1636.7 797.9,1620.7 797.9,1666.1 797.9,1612.7 803.9,1620.7 802.6,1631.4 802.6,1607.3 803.9,1655.4 802.6,1626 802.6,1615.3 801.3,1612.7 801.3,1612.7 802.6,1754.2 806,1599.3 804.7,1599.3 808,1591.3 808,1596.7 810.6,1591.3 808,1607.3 808,1610 808,1594 809.3,1604.7 808,1591.3 808,1607.3 809.3,1612.7 809.3,1634 811.4,1594 811.4,1594 811.4,1623.4 811.4,1618 814,1596.7 811.4,1607.3 814,1615.3 817.4,1612.7 816.1,1618 817.4,1626 816.1,1604.7 819.4,1602 820.7,1639.4 818.1,1631.4 819.4,1628.7 820.7,1607.3 819.4,1607.3 819.4,1607.3 819.4,1668.8 824.1,1620.7 821.5,1623.4 821.5,1618 824.1,1618 824.1,1615.3 822.8,1639.4 824.9,1620.7 827.5,1623.4 827.5,1628.7 826.2,1615.3 827.5,1610 826.2,1698.1 829.5,1631.4 830.8,1618 830.8,1615.3 829.5,1799.6 831.6,1618 834.2,1615.3 832.9,1604.7 832.9,1634 831.6,1623.4 834.2,1604.7 834.2,1655.4 834.2,1620.7 834.2,1647.4 835,1602 837.6,1618 836.3,1599.3 835,1623.4 837.6,1607.3 836.3,1604.7 839.7,1615.3 839.7,1612.7 839.7,1604.7 843,1599.3 843,1634 844.3,1631.4 847.7,1607.3 847.7,1604.7 847.7,1666.1 847.7,1604.7 846.4,1607.3 846.4,1610 845.1,1620.7 847.7,1631.4 846.4,1599.3 845.1,1599.3 851.1,1612.7 848.5,1634 851.1,1610 849.8,1634 849.8,1663.4 848.5,1618 851.1,1676.8 848.5,1604.7 851.1,1607.3 849.8,1909 849.8,1690.1 853.1,1620.7 853.1,1639.4 851.8,1607.3 854.4,1639.4 854.4,1612.7 853.1,1639.4 854.4,1636.7 853.1,1703.5 856.5,1642 857.8,1610 856.5,1623.4 855.2,1607.3 856.5,1623.4 855.2,1604.7 856.5,1618 857.8,1604.7 858.6,1610 859.9,1620.7 859.9,1626 861.2,1610 859.9,1679.4 858.6,1618 861.2,1618 859.9,1700.8 861.9,1666.1 861.9,1615.3 866.6,1634 865.3,1620.7 867.9,1636.7 867.9,1628.7 866.6,1618 866.6,1628.7 866.6,1639.4 866.6,1676.8 868.7,1631.4 871.3,1615.3 871.3,1618 870,1618 868.7,1626 871.3,1642 871.3,1618 870,1636.7 868.7,1626 870,1682.1 873.4,1612.7 872.1,1631.4 872.1,1612.7 873.4,1610 873.4,1644.7 873.4,1687.4 873.4,1636.7 875.4,1599.3 875.4,1602 880.1,1604.7 880.1,1594 880.1,1602 880.1,1594 881.4,1623.4 880.1,1596.7 878.8,1628.7 881.4,1684.8 878.8,1615.3 880.1,1722.1 884.8,1604.7 883.5,1615.3 884.8,1618 883.5,1615.3 884.8,1610 883.5,1674.1 885.5,1610 885.5,1620.7 885.5,1714.1 885.5,1612.7 888.1,1623.4 885.5,1612.7 886.8,1644.7 890.2,1620.7 890.2,1615.3 891.5,1604.7 890.2,1610 890.2,1631.4 890.2,1756.9 893.6,1636.7 893.6,1604.7 892.3,1607.3 892.3,1620.7 893.6,1612.7 893.6,1602 892.3,1602 892.3,1602 893.6,1714.1 895.6,1628.7 896.9,1631.4 898.2,1602 896.9,1652.7 900.3,1607.3 899,1607.3 901.6,1626 900.3,1615.3 899,1618 903.7,1594 903.7,1594 905,1594 905,1610 908.4,1610 907.1,1628.7 907.1,1626 907.1,1719.5 911.7,1623.4 910.4,1634 911.7,1602 911.7,1623.4 909.1,1634 910.4,1687.4 915.1,1634 915.1,1612.7 912.5,1615.3 913.8,1620.7 913.8,1652.7 915.1,1618 912.5,1636.7 913.8,1612.7 912.5,1623.4 915.1,1615.3 913.8,1639.4 917.2,1612.7 918.5,1652.7 915.9,1604.7 915.9,1604.7 915.9,1634 917.2,1796.9 919.2,1615.3 921.8,1615.3 919.2,1636.7 919.2,1639.4 920.5,1610 920.5,1623.4 920.5,1618 920.5,1650.1 922.6,1615.3 923.9,1607.3 923.9,1602 925.2,1596.7 922.6,1602 922.6,1602 925.2,1623.4 926,1599.3 928.6,1612.7 926,1599.3 927.3,1599.3 927.3,1626 931.9,1607.3 931.9,1607.3 931.9,1607.3 929.3,1655.4 930.6,1639.4 931.9,1631.4 929.3,1612.7 930.6,1631.4 930.6,1663.4 930.6,1652.7 932.7,1652.7 935.3,1663.4 935.3,1618 934,1658.1 934,1634 934,1620.7 934,1639.4 935.3,1636.7 936.1,1679.4 936.1,1634 937.4,1788.9 939.5,1626 939.5,1636.7 940.8,1631.4 940.8,1682.1 939.5,1626 944.1,1620.7 944.1,1639.4 945.4,1612.7 944.1,1674.1 944.1,1732.8 944.1,1684.8 947.5,1615.3 948.8,1634 946.2,1610 947.5,1623.4 946.2,1610 947.5,1692.8 948.8,1660.7 947.5,1655.4 949.6,1620.7 952.2,1652.7 949.6,1623.4 949.6,1626 952.2,1636.7 954.2,1623.4 954.2,1623.4 955.5,1615.3 954.2,1642 957.6,1618 956.3,1620.7 958.9,1623.4 958.9,1639.4 961,1650.1 962.3,1620.7 961,1618 962.3,1618 964.3,1626 965.6,1655.4 963,1634 964.3,1628.7 963,1636.7 964.3,1626 965.6,1626 963,1647.4 966.4,1615.3 966.4,1652.7 967.7,1626 969,1620.7 969,1634 969,1620.7 969,1631.4 967.7,1692.8 971.1,1636.7 972.4,1658.1 969.8,1722.1 972.4,1631.4 972.4,1690.1 972.4,1660.7 972.4,1703.5 975.8,1652.7 975.8,1655.4 973.2,1644.7 975.8,1708.8 973.2,1658.1 975.8,1668.8 974.5,1732.8 976.5,1716.8 976.5,1647.4 976.5,1714.1 976.5,1650.1 976.5,1644.7 976.5,1660.7 979.9,1636.7 982.5,1634 981.2,1634 981.2,1666.1 983.3,1631.4 985.9,1636.7 985.9,1690.1 983.3,1644.7 984.6,1650.1 983.3,1652.7 984.6,1642 989.2,1620.7 986.6,1636.7 989.2,1631.4 987.9,1663.4 986.6,1626 989.2,1626 989.2,1639.4 987.9,1620.7 992.6,1634 991.3,1623.4 991.3,1623.4 992.6,1671.4 992.6,1631.4 990,1644.7 994.7,1631.4 1001.4,1679.4 1000.1,1647.4 1000.1,1642 1002.7,1655.4 1000.1,1642 1000.1,1652.7 1002.7,1671.4 1004.8,1642 1004.8,1663.4 1003.5,1631.4 1004.8,1636.7 1006.9,1655.4 1009.5,1740.8 1006.9,1650.1 1009.5,1658.1 1011.5,1658.1 1011.5,1652.7 1010.2,1684.8 1011.5,1655.4 1010.2,1658.1 1012.8,1639.4 1011.5,1679.4 1014.9,1652.7 1013.6,1668.8 1013.6,1647.4 1014.9,1652.7 1014.9,1642 1016.2,1652.7 1016.2,1631.4 1014.9,1714.1 1019.6,1623.4 1019.6,1620.7 1018.3,1636.7 1017,1650.1 1018.3,1642 1017,1636.7 1018.3,1663.4 1022.9,1652.7 1022.9,1642 1020.3,1620.7 1021.6,1620.7 1021.6,1628.7 1022.9,1660.7 1021.6,1660.7 1023.7,1634 1023.7,1644.7 1023.7,1639.4 1023.7,1650.1 1026.3,1642 1023.7,1628.7 1023.7,1628.7 1027.1,1642 1028.4,1660.7 1028.4,1642 1028.4,1639.4 1028.4,1639.4 1028.4,1626 1028.4,1642 1028.4,1666.1 1033,1628.7 1031.7,1636.7 1030.4,1620.7 1033,1636.7 1031.7,1690.1 1031.7,1620.7 1033,1639.4 1035.1,1618 1035.1,1636.7 1035.1,1628.7 1035.1,1623.4 1035.1,1650.1 1037.2,1628.7 1037.2,1626 1037.2,1634 1037.2,1623.4 1038.5,1628.7 1038.5,1730.2 1040.6,1679.4 1040.6,1679.4 1040.6,1607.3 1040.6,1610 1043.2,1623.4 1043.2,1642 1040.6,1618 1045.2,1602 1043.9,1612.7 1043.9,1626 1045.2,1663.4 1046.5,1607.3 1045.2,1634 1047.3,1612.7 1048.6,1615.3 1048.6,1599.3 1049.9,1612.7 1047.3,1618 1047.3,1647.4 1047.3,1610 1047.3,1612.7 1053.3,1604.7 1050.7,1612.7 1053.3,1610 1052,1620.7 1053.3,1602 1053.3,1602 1053.3,1615.3 1050.7,1602 1053.3,1602 1052,1842.3 1054,1610 1054,1642 1055.3,1599.3 1055.3,1612.7 1055.3,1644.7 1057.4,1610 1060,1626 1060,1607.3 1058.7,1604.7 1062.1,1700.8 1060.8,1644.7 1060.8,1618 1063.4,1615.3 1065.4,1604.7 1068.8,1620.7 1068.8,1607.3 1067.5,1618 1067.5,1623.4 1070.1,1612.7 1067.5,1602 1067.5,1604.7 1073.5,1615.3 1073.5,1658.1 1072.2,1610 1072.2,1650.1 1072.2,1631.4 1074.3,1615.3 1075.6,1610 1075.6,1652.7 1077.6,1658.1 1080.2,1623.4 1078.9,1631.4 1078.9,1626 1080.2,1604.7 1078.9,1620.7 1082.3,1607.3 1081,1607.3 1083.6,1618 1083.6,1623.4 1082.3,1620.7 1082.3,1620.7 1082.3,1676.8 1084.4,1612.7 1084.4,1596.7 1087,1602 1085.7,1796.9 1089,1612.7 1089,1626 1087.7,1618 1090.3,1650.1 1091.1,1612.7 1091.1,1618 1093.7,1799.6 1092.4,1812.9 1095.8,1626 1094.5,1628.7 1095.8,1612.7 1095.8,1666.1 1097.1,1658.1 1094.5,1626 1097.1,1618 1097.1,1612.7 1095.8,1615.3 1097.8,1615.3 1097.8,1618 1100.4,1615.3 1099.1,1658.1 1100.4,1647.4 1100.4,1626 1099.1,1668.8 1100.4,1634 1099.1,1618 1101.2,1650.1 1102.5,1666.1 1101.2,1628.7 1103.8,1642 1102.5,1660.7 1103.8,1639.4 1103.8,1628.7 1102.5,1724.8 1102.5,1655.4 1104.6,1647.4 1104.6,1639.4 1104.6,1642 1104.6,1676.8 1105.9,1655.4 1108,1650.1 1109.3,1623.4 1108,1647.4 1109.3,1623.4 1109.3,1690.1 1113.9,1668.8 1113.9,1620.7 1111.3,1620.7 1113.9,1666.1 1111.3,1623.4 1112.6,1855.6 1116,1682.1 1117.3,1644.7 1116,1706.1 1116,1660.7 1116,1639.4 1114.7,1660.7 1120.7,1636.7 1119.4,1644.7 1118.1,1636.7 1118.1,1636.7 1119.4,1647.4 1118.1,1644.7 1120.7,1639.4 1120.7,1647.4 1119.4,1647.4 1120.7,1636.7 1119.4,1676.8 1124,1644.7 1122.7,1639.4 1124,1642 1127.4,1628.7 1124.8,1642 1126.1,1634 1124.8,1647.4 1126.1,1647.4 1129.5,1647.4 1129.5,1711.5 1129.5,1634 1128.2,1652.7 1129.5,1882.3 1132.8,1642 1132.8,1644.7 1131.5,1631.4 1134.9,1644.7 1136.2,1671.4 1136.2,1647.4 1134.9,1636.7 1137.5,1636.7 1134.9,1666.1 1136.2,1804.9 1138.3,1690.1 1138.3,1644.7 1138.3,1636.7 1141.7,1639.4 1144.3,1626 1141.7,1644.7 1141.7,1660.7 1141.7,1650.1 1147.6,1690.1 1146.3,1631.4 1147.6,1674.1 1151,1674.1 1149.7,1660.7 1151,1706.1 1148.4,1639.4 1153.1,1668.8 1153.1,1631.4 1153.1,1682.1 1153.1,1711.5 1157.7,1615.3 1157.7,1615.3 1157.7,1615.3 1155.1,1647.4 1156.4,1652.7 1159.8,1607.3 1161.1,1660.7 1158.5,1618 1163.2,1631.4 1163.2,1612.7 1164.5,1604.7 1161.9,1626 1163.2,1626 1161.9,1604.7 1164.5,1631.4 1164.5,1626 1164.5,1607.3 1163.2,1655.4 1167.8,1626 1167.8,1612.7 1165.2,1604.7 1167.8,1628.7 1165.2,1612.7 1165.2,1612.7 1166.5,1652.7 1166.5,1671.4 1171.2,1623.4 1169.9,1615.3 1171.2,1620.7 1171.2,1612.7 1171.2,1626 1169.9,1668.8 1171.2,1644.7 1169.9,1634 1174.6,1591.3 1172,1628.7 1172,1615.3 1174.6,1591.3 1173.3,1618 1172,1634 1173.3,1644.7 1176.7,1604.7 1178,1594 1176.7,1644.7 1176.7,1655.4 1181.3,1604.7 1180,1594 1178.7,1599.3 1181.3,1607.3 1180,1634 1178.7,1612.7 1181.3,1610 1180,1652.7 1184.7,1604.7 1183.4,1660.7 1182.1,1610 1184.7,1628.7 1184.7,1618 1188.1,1618 1188.1,1706.1 1188.1,1626 1188.1,1634 1185.5,1626 1185.5,1666.1 1188.1,1628.7 1185.5,1618 1186.8,1628.7 1186.8,1655.4 1186.8,1772.9 1190.1,1623.4 1191.4,1631.4 1190.1,1620.7 1190.1,1623.4 1188.8,1620.7 1191.4,1636.7 1192.2,1650.1 1192.2,1650.1 1193.5,1652.7 1194.8,1634 1192.2,1658.1 1198.2,1682.1 1198.2,1658.1 1198.2,1660.7 1196.9,1663.4 1201.5,1668.8 1201.5,1679.4 1198.9,1658.1 1198.9,1666.1 1200.2,1679.4 1200.2,1663.4 1201.5,1711.5 1200.2,1708.8 1204.9,1644.7 1208.3,1628.7 1205.7,1679.4 1207,1642 1205.7,1639.4 1207,1650.1 1205.7,1634 1207,1732.8 1211.7,1660.7 1211.7,1668.8 1209.1,1634 1210.4,1636.7 1209.1,1634 1211.7,1636.7 1210.4,1660.7 1210.4,1692.8 1212.4,1634 1215,1631.4 1213.7,1700.8 1218.4,1663.4 1217.1,1703.5 1217.1,1655.4 1215.8,1679.4 1217.1,1708.8 1220.5,1644.7 1221.8,1679.4 1221.8,1679.4 1220.5,1804.9 1222.5,1647.4 1223.8,1658.1 1225.1,1676.8 1225.9,1652.7 1227.2,1772.9 1227.2,1703.5 1231.9,1650.1 1231.9,1647.4 1230.6,1658.1 1231.9,1663.4 1229.3,1674.1 1230.6,1636.7 1229.3,1647.4 1229.3,1636.7 1231.9,1642 1230.6,1706.1 1230.6,1682.1 1233.9,1636.7 1232.6,1650.1 1235.2,1631.4 1235.2,1660.7 1235.2,1642 1238.6,1639.4 1236,1647.4 1236,1679.4 1236,1642 1238.6,1650.1 1238.6,1650.1 1240.7,1650.1 1239.4,1692.8 1242,1647.4 1240.7,1722.1 1242.8,1658.1 1244.1,1652.7 1242.8,1663.4 1242.8,1668.8 1244.1,1682.1 1248.7,1647.4 1248.7,1714.1 1247.4,1698.1 1246.1,1724.8 1246.1,1644.7 1246.1,1668.8 1248.7,1647.4 1246.1,1647.4 1247.4,1647.4 1247.4,1679.4 1250.8,1639.4 1252.1,1636.7 1252.1,1687.4 1252.1,1652.7 1250.8,1692.8 1254.2,1652.7 1254.2,1628.7 1255.5,1679.4 1255.5,1639.4 1254.2,1722.1 1254.2,1676.8 1256.2,1626 1262.2,1660.7 1259.6,1639.4 1262.2,1628.7 1263,1636.7 1265.6,1631.4 1263,1631.4 1263,1650.1 1265.6,1660.7 1267.6,1682.1 1268.9,1639.4 1266.3,1671.4 1268.9,1658.1 1267.6,1652.7 1272.3,1642 1269.7,1663.4 1269.7,1623.4 1272.3,1639.4 1271,1719.5 1275.7,1631.4 1274.4,1663.4 1275.7,1668.8 1273.1,1647.4 1274.4,1626 1277.8,1636.7 1277.8,1644.7 1277.8,1644.7 1281.1,1623.4 1279.8,1660.7 1281.1,1631.4 1281.1,1666.1 1283.2,1647.4 1284.5,1615.3 1285.8,1647.4 1283.2,1615.3 1287.9,1628.7 1286.6,1650.1 1289.2,1626 1289.2,1644.7 1286.6,1628.7 1286.6,1631.4 1286.6,1684.8 1286.6,1631.4 1289.9,1647.4 1292.5,1655.4 1289.9,1663.4 1291.2,1626 1291.2,1642 1289.9,1642 1291.2,1671.4 1293.3,1644.7 1293.3,1652.7 1294.6,1650.1 1293.3,1676.8 1295.9,1695.5 1293.3,1642 1293.3,1642 1294.6,1647.4 1294.6,1682.1 1293.3,1644.7 1294.6,1770.2 1299.3,1682.1 1296.7,1642 1299.3,1642 1299.3,1652.7 1298,1647.4 1299.3,1706.1 1298,1676.8 1299.3,1655.4 1298,1799.6 1300,1647.4 1300,1674.1 1301.3,1642 1300,1658.1 1300,1642 1300,1663.4 1301.3,1639.4 1304.7,1650.1 1303.4,1668.8 1303.4,1671.4 1309.4,1676.8 1309.4,1652.7 1309.4,1658.1 1306.8,1652.7 1306.8,1650.1 1306.8,1658.1 1308.1,1647.4 1310.2,1650.1 1311.5,1663.4 1310.2,1644.7 1310.2,1634 1310.2,1674.1 1311.5,1679.4 1312.8,1639.4 1316.1,1636.7 1313.5,1660.7 1314.8,1660.7 1314.8,1644.7 1319.5,1660.7 1316.9,1655.4 1319.5,1658.1 1319.5,1676.8 1319.5,1708.8 1321.6,1660.7 1322.9,1684.8 1321.6,1668.8 1322.9,1663.4 1321.6,1815.6 1324.9,1687.4 1326.2,1684.8 1323.6,1690.1 1324.9,1658.1 1324.9,1663.4 1323.6,1668.8 1329.6,1666.1 1329.6,1668.8 1327,1730.2 1328.3,1668.8 1327,1700.8 1329.6,1676.8 1327,1671.4 1327,1666.1 1328.3,1674.1 1328.3,1722.1 1328.3,1722.1 1333,1684.8 1330.4,1706.1 1333,1671.4 1333,1684.8 1331.7,1858.3 1336.3,1690.1 1335,1804.9 1337.1,1652.7 1337.1,1676.8 1338.4,1655.4 1341.8,1655.4 1340.5,1647.4 1343.1,1663.4 1340.5,1644.7 1343.1,1660.7 1340.5,1663.4 1343.1,1652.7 1341.8,1647.4 1340.5,1644.7 1343.1,1674.1 1343.9,1655.4 1346.5,1652.7 1343.9,1647.4 1343.9,1647.4 1345.2,1650.1 1346.5,1660.7 1346.5,1682.1 1346.5,1695.5 1346.5,1660.7 1345.2,1647.4 1346.5,1650.1 1349.8,1666.1 1347.2,1722.1 1351.9,1679.4 1353.2,1660.7 1353.2,1660.7 1351.9,1727.5 1350.6,1698.1 1351.9,1668.8 1350.6,1663.4 1355.3,1684.8 1356.6,1658.1 1355.3,1740.8 1356.6,1732.8 1355.3,1666.1 1355.3,1732.8 1357.3,1682.1 1359.9,1668.8 1358.6,1671.4 1357.3,1687.4 1358.6,1674.1 1357.3,1647.4 1359.9,1663.4 1357.3,1642 1358.6,1788.9 1358.6,1671.4 1358.6,1690.1 1362,1666.1 1363.3,1660.7 1363.3,1687.4 1362,1668.8 1362,1650.1 1362,1692.8 1362,1703.5 1362,1698.1 1366.7,1660.7 1366.7,1679.4 1366.7,1663.4 1366.7,1671.4 1365.4,1663.4 1366.7,1666.1 1364.1,1658.1 1365.4,1716.8 1367.4,1663.4 1367.4,1658.1 1367.4,1666.1 1367.4,1687.4 1368.7,1682.1 1367.4,1666.1 1368.7,1660.7 1373.4,1698.1 1373.4,1647.4 1373.4,1655.4 1370.8,1644.7 1373.4,1668.8 1375.5,1676.8 1375.5,1668.8 1375.5,1674.1 1375.5,1898.4 1378.9,1652.7 1378.9,1647.4 1380.2,1658.1 1377.6,1666.1 1380.9,1658.1 1380.9,1684.8 1380.9,1666.1 1382.2,1826.3 1382.2,1743.5 1385.6,1682.1 1384.3,1644.7 1384.3,1650.1 1384.3,1642 1384.3,1647.4 1384.3,1676.8 1384.3,1655.4 1384.3,1663.4 1384.3,1660.7 1384.3,1647.4 1387.7,1671.4 1390.3,1639.4 1387.7,1639.4 1389,1671.4 1389,1660.7 1390.3,1652.7 1391,1639.4 1392.3,1634 1391,1639.4 1391,1636.7 1393.6,1658.1 1395.7,1639.4 1397,1644.7 1395.7,1644.7 1394.4,1647.4 1397,1631.4 1397,1634 1397.8,1650.1 1397.8,1639.4 1400.4,1636.7 1400.4,1634 1399.1,1666.1 1397.8,1663.4 1400.4,1660.7 1399.1,1663.4 1399.1,1684.8 1403.7,1660.7 1401.1,1634 1403.7,1631.4 1402.4,1754.2 1404.5,1650.1 1407.1,1666.1 1407.1,1690.1 1410.5,1679.4 1407.9,1658.1 1411.3,1671.4 1412.6,1658.1 1411.3,1666.1 1412.6,1711.5 1413.9,1660.7 1412.6,1652.7 1413.9,1655.4 1412.6,1682.1 1415.9,1698.1 1415.9,1647.4 1414.6,1671.4 1415.9,1647.4 1417.2,1652.7 1418,1703.5 1419.3,1658.1 1419.3,1738.2 1424,1650.1 1421.4,1652.7 1424,1663.4 1424,1647.4 644.2,1915.7 610.5,1908.2 404.9,1915.5 991.3,1892.4 1254.2,1896.5 455.5,1910.2 539.7,1911 1375.5,1887.4 1365.4,1902.8 509.4,1910.9 1011.5,1896.8 688,1905.9 1129.5,1911.5 819.4,1900.8 378,1915.5 930.6,1914.7 1173.3,1911.4 721.7,1914.9 785.7,1907 684.6,1918 1223.8,1917.1 600.4,1908.7 1139.6,1901.8 789.1,1914.1 684.6,1917.5 1419.3,1914.5 1335,1897.3 1304.7,1906.6 768.9,1893.7 664.4,1907.7 913.8,1874.4 442,1888 1210.4,1908 940.8,1917.7 576.8,1914.3 1099.1,1916 1190.1,1914 650.9,1912.4 762.1,1915.3 930.6,1911 620.6,1915.5 728.4,1888.2 378,1911.4 522.9,1915.8 1176.7,1866.6 886.8,1916 1244.1,1916 913.8,1917.8 1200.2,1896.1 394.8,1906.2 1281.1,1888.2 1345.2,1918 809.3,1908.4 792.5,1912.2 640.8,1905.2 846.4,1915.3 1402.4,1914.1 1260.9,1904.3 442,1912.4 1065.4,1914.3 600.4,1901.4 846.4,1914.7 1227.2,1892 1324.9,1913.1 826.2,1914.7 1375.5,1916.7 607.1,1860 1018.3,1874 1149.7,1915.4 1382.2,1910.1 1395.7,1914.2 1062.1,1900.3 704.9,1910.6 684.6,1881.1 371.2,1916.6 779,1910.8 880.1,1910.3 795.8,1911.6 546.5,1914.3 445.4,1905.2 987.9,1912.4 1301.3,1912.3 1068.8,1883.9 944.1,1906 452.1,1917.6 597,1917.5 1267.6,1888.5 698.1,1898.8 458.8,1916.2 1244.1,1905.5 425.1,1897.3 896.9,1909.7 1260.9,1915.9 819.4,1896.5 452.1,1902 1203.6,1914.4 543.1,1916.9 1136.2,1913.3 1176.7,1908 431.9,1911.3 758.8,1917.4 785.7,1916 886.8,1917.7 674.5,1913 917.2,1916.6 647.6,1915.9 620.6,1911.5 789.1,1909.9 661,1917.7 977.8,1908.7 1058.7,1913.2 566.7,1915.8 1169.9,1915.8 1052,1913.5 1318.2,1902.8 512.8,1914.7 1132.8,1907.6 991.3,1884.1 388.1,1908.5 745.3,1911.1 745.3,1911.1" fill="none" stroke="none" marker-mid="url(#mw)"/>
<polygon points="1422,1921 1422,1661 1426,1659 1433,1664 1440,1659 1447,1664 1454,1659 1461,1664 1468,1659 1475,1664 1482,1659 1489,1664 1496,1659 1503,1664 1510,1659 1517,1664 1524,1659 1531,1664 1538,1659 1545,1664 1554,1664 1551.5,1668 1555.5,1673 1551.5,1678 1555.5,1683 1551.5,1688 1555.5,1693 1551.5,1698 1555.5,1703 1551.5,1708 1555.5,1713 1551.5,1718 1555.5,1723 1551.5,1728 1555.5,1733 1551.5,1738 1555.5,1743 1551.5,1748 1555.5,1753 1551.5,1758 1555.5,1763 1551.5,1768 1555.5,1773 1551.5,1778 1555.5,1783 1551.5,1788 1555.5,1793 1551.5,1798 1555.5,1803 1551.5,1808 1555.5,1813 1551.5,1818 1555.5,1823 1551.5,1828 1555.5,1833 1551.5,1838 1555.5,1843 1551.5,1848 1555.3,1853 1551.1,1858 1554.8,1863 1550.6,1868 1554.3,1873 1550.1,1878 1553.8,1883 1549.6,1888 1553.3,1893 1549.1,1898 1552.8,1903 1548.6,1908 1552.3,1913 1548.1,1918 1548,1921" fill="#d90034"/>
<polygon points="1496,1668 1496,1640 1503,1628 1551,1628 1556,1640 1554,1668" fill="#d90034"/>
<polyline points="1539.2,1515.7 1539.2,1515.7 1539.2,1562.5 1478.5,1575.8 1507.8,1584.9 1523.9,1596.7 1518,1607.9 1461,1600.2 1478.5,1600.2 1463.8,1616.2 1472,1628.8 1535.7,1630.2 1457.5,1644.2 1475,1644.2 1470.8,1654.7 1520.4,1648.4 1487,1095.2 1487,1125.8 1487,1178.6 1487,1202.8 1540,1149.2 1540,1169.7 1540,1185 1540,1058.2 1540,1062.2 1540,1066.2 1540,1070.2 1540,1074.2 1540,1078.2 1540,1082.2 1540,1086.2 1540,1090.2 1540,1094.2 1540,1098.2 1540,1102.2 1540,1106.2 1540,1110.2 1540,1114.2 1540,1118.2 1540,1122.2 1540,1126.2 1540,1130.2 1436,1666.9 1445,1664.4 1454,1669.2 1463,1667.6 1472,1668.6 1481,1666.7 1490,1663 1499,1663.8 1508,1664.1 1517,1662.8 1526,1664.9 1535,1667.5 1544,1665.4 1500,1642.2 1512,1632.2 1530,1652.2 1545,1657.2 1490,1652.2 1440,1657.2 1452,1662.2 1452,1662.2" fill="none" stroke="none" marker-mid="url(#mr)"/>
<polyline points="1539.2,1513.5 1539.2,1513.5 1539.2,1560.3 1478.5,1573.6 1507.8,1582.7 1523.9,1594.5 1518,1605.7 1461,1598 1478.5,1598 1463.8,1614 1472,1626.6 1535.7,1628 1457.5,1642 1475,1642 1470.8,1652.5 1520.4,1646.2 1487,1093 1487,1123.6 1487,1176.4 1487,1200.6 1540,1147 1540,1167.5 1540,1182.8 1540,1056 1540,1060 1540,1064 1540,1068 1540,1072 1540,1076 1540,1080 1540,1084 1540,1088 1540,1092 1540,1096 1540,1100 1540,1104 1540,1108 1540,1112 1540,1116 1540,1120 1540,1124 1540,1128 1482.6,1681 1535,1687.4 1538,1687.4 1530,1600 1512,1590 1467,1606 1466,1622 1478,1634 1465,1634 1520,1636 1520,1636" fill="none" stroke="none" marker-mid="url(#mg)"/>
<polygon points="252,946 245,959 240,979 236.2,1012.7 234.7,1077.6 236.2,1136.7 243,1142 238,1156 250,1160 260,1149.5 272,1149.5 274,1157.5 290,1157.5 290,1163.5 313,1163.5 320,1159 345,1161 357.7,1163 357.7,1143 362,1138 369.8,1122 369.8,1000 368.6,975 364.6,968 357.7,958 349.7,946" fill="#000080"/>
<polyline points="248.4,985 248.4,985 355.8,985 250.4,991.5 355.2,991.5 248.4,998 355.8,998 249.3,1004.5 356,1004.5 249.5,1011 356.2,1011 248,1017.5 355.6,1017.5 249.5,1024 355.9,1024 248.5,1030.5 355.5,1030.5 248.7,1037 355.9,1037 248.2,1043.5 354.4,1043.5 250.4,1050 355.8,1050 248.6,1056.5 354.8,1056.5 249.1,1063 354.6,1063 248.4,1069.5 356.4,1069.5 248.5,1076 355.9,1076 249.8,1082.5 355.8,1082.5 248.8,1089 354.6,1089 249.5,1095.5 356.5,1095.5 249,1102 354.5,1102 249.3,1108.5 354.5,1108.5 248.9,1115 355.8,1115 248.6,1121.5 355.1,1121.5 249.6,1128 354.4,1128 248.4,1134.5 356.4,1134.5 356.4,1134.5" fill="none" stroke="none" marker-mid="url(#mb)"/>
<polygon points="267.9,948 274.4,959.4 256.9,959.4 267.9,980.9 271.9,974.9 280.9,974.9 280.9,969.9 299.8,951 307.8,959.4 311.8,948" fill="#fff"/>
<polygon points="309.8,960 334.7,960 334.7,968 342.7,968 342.7,977 338.7,977 334.7,971 327.7,966 317.8,979" fill="#fff"/>
<polygon points="330.7,948 336.7,959.4 337.7,955 342.7,948" fill="#fff"/>
<polyline points="247.6,1207.9 247.6,1207.9 268.6,1214.6 262,1252.7 262,1305.2 276,1185.2 306.7,1188.9 322.9,1172.7 299,1200.2 316,1207.9 339,1203.2 316,1223.2 302,1236.2 329.5,1245.2 305.7,1260.2 319,1260.2 329.5,1274.6 308.6,1282.2 323.8,1298.2 345.7,1298.2 329.5,1327 308.6,1335.2 308.6,1359.2 316,1395.2 295,1427 302.9,1476.2 302.9,1472.2 262,1717.2 277,1794.2 247,1169.2 262,1174.2 290,1174.2 345,1172.2 347,1190.2 343,1178.2 350,1174.2 335,1182.2 300,1167.2 320,1162.2 280,1198.2 296,1178.2 326,1188.2 326,1188.2" fill="none" stroke="none" marker-mid="url(#mb)"/>
<polyline points="247.6,1205.7 247.6,1205.7 268.6,1212.4 262,1250.5 262,1303 276,1183 306.7,1186.7 322.9,1170.5 299,1198 316,1205.7 339,1201 316,1221 302,1234 329.5,1243 305.7,1258 319,1258 329.5,1272.4 308.6,1280 323.8,1296 345.7,1296 329.5,1324.8 308.6,1333 308.6,1357 316,1393 295,1424.8 302.9,1474 302.9,1470 262,1715 277,1792 270.5,1177 276,1184.8 283.8,1181 270.5,1190.5 280,1190.5 287.6,1177 278,1180 310.5,1177 318,1165.7 327.6,1177 333.3,1196 343.8,1205.7 270,1178 282,1186 276,1192 286,1180 268,1190 310,1180 300,1190 326,1176 318,1166 343,1206 334,1196 316,1213 316,1213" fill="none" stroke="none" marker-mid="url(#mg)"/>
<line x1="196.6" x2="1592.5" y1="1808" y2="1808" stroke="#000" stroke-width="2.6" stroke-dasharray="8 5.7"/>
<line x1="196.6" x2="1592.5" y1="1058" y2="1058" stroke="#000" stroke-width="2.6" stroke-dasharray="8 5.7"/>
<line x1="196.6" x2="1592.5" y1="1433.5" y2="1433.5" stroke="#f00" stroke-width="2.6" stroke-dasharray="8 5.7"/>
</g>
<circle cx="697" cy="1461.4" r="15.5" fill="none" stroke="#e0129c" stroke-width="6.5"/>
<circle cx="1250.6" cy="1013.5" r="15.5" fill="none" stroke="#e0129c" stroke-width="6.5"/>
<rect x="196.6" y="946.5" width="1395.9" height="974.5" fill="none" stroke="#000" stroke-width="3"/>
</g>
</svg></body></html>
